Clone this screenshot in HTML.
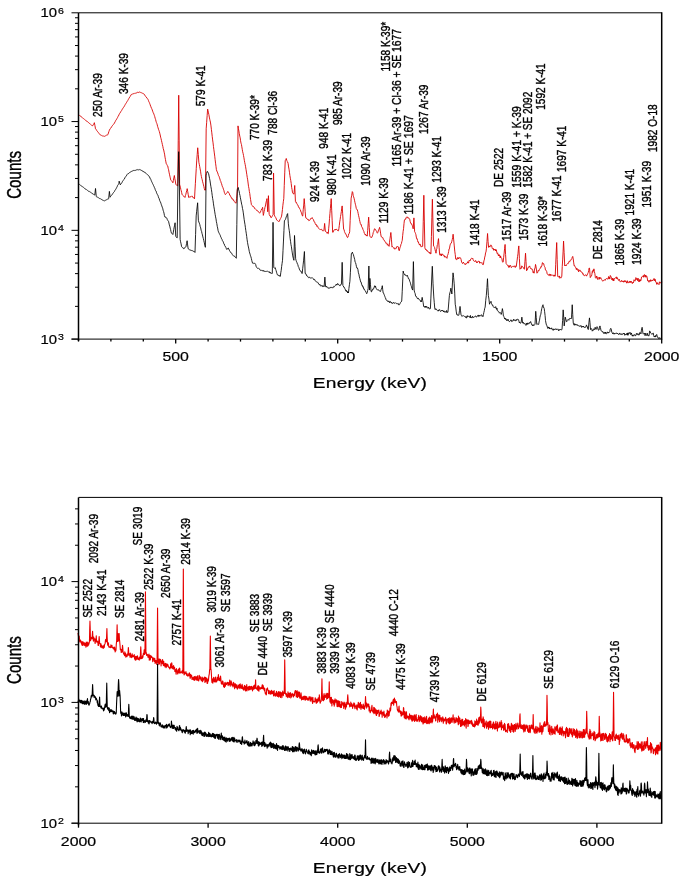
<!DOCTYPE html>
<html><head><meta charset="utf-8"><title>Spectra</title>
<style>html,body{margin:0;padding:0;background:#fff;}svg{display:block;filter:blur(0.3px);}text{font-family:"Liberation Sans", sans-serif;}</style>
</head><body>
<svg width="685" height="879" viewBox="0 0 685 879" font-family='"Liberation Sans", sans-serif' fill="#000">
<rect width="685" height="879" fill="#fff"/>
<g fill="none" stroke-linejoin="round">
<path d="M78.00 114.20 L78.41 114.44 L78.81 114.86 L79.22 115.13 L79.62 115.53 L80.03 115.86 L80.43 116.01 L80.84 116.32 L81.24 116.90 L81.65 117.04 L82.06 117.36 L82.46 117.93 L82.87 118.08 L83.27 118.52 L83.68 118.73 L84.08 119.11 L84.49 119.27 L84.89 119.76 L85.30 120.04 L85.70 120.49 L86.11 120.69 L86.52 121.09 L86.92 121.39 L87.33 121.51 L87.73 122.07 L88.14 122.34 L88.54 122.56 L88.95 122.79 L89.35 123.41 L89.76 123.60 L90.17 124.01 L90.57 124.39 L90.98 124.66 L91.38 125.06 L91.79 125.19 L92.19 125.66 L92.60 125.88 L93.04 125.05 L93.47 124.43 L93.91 123.61 L94.35 122.66 L94.93 125.58 L95.52 128.80 L95.96 129.24 L96.39 129.85 L96.83 130.73 L97.27 131.11 L97.71 131.77 L98.15 132.22 L98.58 132.89 L99.02 133.42 L99.46 133.99 L99.90 134.64 L100.31 134.85 L100.72 135.02 L101.12 135.33 L101.53 135.41 L101.94 135.69 L102.35 135.84 L102.76 136.07 L103.17 136.11 L103.58 136.07 L103.99 136.39 L104.42 136.35 L104.86 136.20 L105.30 135.98 L105.74 135.64 L106.18 135.51 L106.61 135.09 L107.05 135.17 L107.49 134.86 L107.93 134.64 L108.41 133.08 L108.90 131.52 L109.39 130.26 L110.12 128.80 L110.55 128.38 L110.99 127.86 L111.43 126.85 L111.87 126.60 L112.31 125.83 L112.74 125.13 L113.18 124.61 L113.62 124.25 L114.06 123.72 L114.50 122.96 L114.93 121.93 L115.37 121.41 L115.81 120.33 L116.25 119.85 L116.69 118.86 L117.12 118.33 L117.56 117.57 L118.00 116.54 L118.44 115.98 L118.88 114.93 L119.29 114.15 L119.71 113.36 L120.13 112.94 L120.54 111.98 L120.96 111.38 L121.38 110.81 L121.80 110.24 L122.21 109.33 L122.63 108.59 L123.05 108.34 L123.46 107.37 L123.88 107.04 L124.30 106.33 L124.72 105.44 L125.13 104.69 L125.54 104.05 L125.95 103.40 L126.36 102.78 L126.77 102.07 L127.18 101.36 L127.59 100.71 L128.00 100.21 L128.41 99.28 L128.82 98.56 L129.23 98.03 L129.64 97.08 L130.05 96.43 L130.46 96.13 L130.87 95.19 L131.28 94.49 L131.69 94.39 L132.09 93.96 L132.49 94.07 L132.89 94.04 L133.29 93.59 L133.69 93.81 L134.09 93.70 L134.50 93.24 L134.90 93.45 L135.30 93.23 L135.70 93.23 L136.10 92.91 L136.50 93.00 L136.91 92.89 L137.31 92.34 L137.71 92.24 L138.11 92.48 L138.51 92.53 L138.91 91.98 L139.31 92.01 L139.75 92.16 L140.19 92.41 L140.63 92.42 L141.07 92.62 L141.50 92.77 L141.94 92.98 L142.38 93.29 L142.82 93.28 L143.26 93.51 L143.69 93.76 L144.13 94.51 L144.57 94.63 L145.01 95.55 L145.45 96.24 L145.88 96.56 L146.32 97.09 L146.76 98.04 L147.20 98.26 L147.64 98.81 L148.07 99.60 L148.49 100.60 L148.91 101.81 L149.32 102.47 L149.74 103.65 L150.16 104.70 L150.58 106.08 L150.99 106.86 L151.41 108.18 L151.83 108.76 L152.24 109.92 L152.66 111.17 L153.08 112.37 L153.50 113.12 L153.91 114.20 L154.33 115.37 L154.75 116.65 L155.16 118.28 L155.58 119.41 L156.00 121.19 L156.42 122.56 L156.83 123.47 L157.25 124.89 L157.67 126.61 L158.08 127.85 L158.50 129.32 L158.92 130.36 L159.33 131.56 L159.75 133.18 L160.19 134.93 L160.63 137.18 L161.07 138.71 L161.50 140.66 L161.94 142.60 L162.38 144.50 L162.82 146.39 L163.26 148.66 L163.69 150.01 L164.13 152.15 L164.57 154.13 L165.01 157.15 L165.45 159.44 L165.88 161.86 L166.32 163.83 L166.81 164.51 L167.29 165.63 L167.78 166.02 L168.20 168.32 L168.62 169.78 L169.03 172.15 L169.45 174.20 L169.87 176.05 L170.28 177.92 L170.70 179.89 L171.14 180.31 L171.58 180.94 L172.01 181.43 L172.45 181.89 L172.89 182.81 L173.38 180.45 L173.86 177.78 L174.35 175.51 L174.84 178.67 L175.32 180.99 L175.81 184.27 L176.28 184.95 L176.76 185.15 L177.23 185.70 L177.71 185.73 L178.22 140.79 L178.73 95.22 L179.17 140.07 L179.61 184.27 L180.02 186.04 L180.43 187.28 L180.85 189.58 L181.26 190.82 L181.67 192.62 L182.09 194.49 L182.50 195.04 L182.92 195.34 L183.34 195.67 L183.76 196.52 L184.17 196.67 L184.59 196.86 L185.01 197.41 L185.45 195.45 L185.88 194.21 L186.32 192.13 L186.76 190.64 L187.20 188.65 L187.68 191.44 L188.17 194.23 L188.66 197.41 L189.07 197.23 L189.49 197.26 L189.91 196.50 L190.33 196.83 L190.74 196.73 L191.16 196.42 L191.58 195.95 L191.99 196.65 L192.41 196.36 L192.83 197.31 L193.25 197.93 L193.66 197.64 L194.08 198.25 L194.50 198.87 L194.93 191.07 L195.37 183.71 L195.81 176.03 L196.25 168.48 L196.69 160.91 L197.20 154.59 L197.71 147.77 L198.29 154.63 L198.88 162.37 L199.29 164.26 L199.71 166.62 L200.13 168.91 L200.54 171.16 L200.96 174.28 L201.38 176.46 L201.80 178.43 L202.21 179.72 L202.63 181.77 L203.05 183.27 L203.46 184.93 L203.88 186.63 L204.30 188.58 L204.72 190.11 L205.45 190.11 L206.18 128.80 L206.66 122.31 L207.15 115.53 L207.64 109.09 L208.05 110.78 L208.47 112.89 L208.89 114.67 L209.30 117.07 L209.72 119.20 L210.14 120.86 L210.55 122.96 L210.97 125.89 L211.39 129.32 L211.81 132.84 L212.22 136.40 L212.64 139.91 L213.06 142.86 L213.47 146.61 L213.89 149.77 L214.31 152.92 L214.73 156.20 L215.14 159.66 L215.56 163.20 L215.98 166.26 L216.39 169.67 L216.83 171.03 L217.27 171.97 L217.71 172.92 L218.15 174.38 L218.58 175.71 L219.02 176.25 L219.46 177.77 L219.90 178.94 L220.34 180.57 L220.77 181.35 L221.21 183.11 L221.65 183.85 L222.09 185.70 L222.53 186.90 L222.96 187.68 L223.40 189.20 L223.84 190.16 L224.28 192.18 L224.72 193.34 L225.15 194.49 L225.57 194.47 L225.99 193.96 L226.40 193.41 L226.82 193.06 L227.24 192.47 L227.66 191.57 L228.07 191.57 L228.49 192.50 L228.91 192.72 L229.32 193.70 L229.74 195.20 L230.16 195.26 L230.58 196.14 L230.99 197.41 L231.42 197.47 L231.84 198.79 L232.27 198.53 L232.70 198.85 L233.12 200.21 L233.55 199.92 L233.97 201.19 L234.40 201.49 L234.82 202.15 L235.25 202.76 L235.68 202.85 L236.10 203.25 L236.59 198.22 L237.08 192.04 L237.56 187.19 L238.00 125.88 L238.44 128.72 L238.88 131.00 L239.31 133.78 L239.75 136.09 L240.17 137.85 L240.59 140.75 L241.00 143.15 L241.42 144.37 L241.84 146.85 L242.25 149.31 L242.67 151.79 L243.09 153.32 L243.51 155.44 L243.92 157.71 L244.34 160.31 L244.76 162.66 L245.17 164.44 L245.59 166.75 L246.01 169.31 L246.43 172.06 L246.84 174.71 L247.26 177.50 L247.68 179.83 L248.09 183.02 L248.51 186.27 L248.93 188.34 L249.35 191.44 L249.76 193.47 L250.18 196.80 L250.60 199.58 L251.01 202.20 L251.43 204.71 L251.86 205.19 L252.29 205.61 L252.72 206.25 L253.15 207.01 L253.58 206.59 L254.01 206.98 L254.44 208.21 L254.87 208.87 L255.30 208.83 L255.74 209.29 L256.18 209.64 L256.61 210.41 L257.05 210.21 L257.49 210.74 L257.93 211.10 L258.36 212.00 L258.80 212.11 L259.24 212.45 L259.68 213.21 L260.10 212.61 L260.51 212.09 L260.93 210.46 L261.35 210.12 L261.76 208.94 L262.18 208.64 L262.60 207.37 L263.33 215.40 L263.73 213.64 L264.14 211.39 L264.55 209.46 L264.95 207.35 L265.36 206.05 L265.76 204.06 L266.17 201.94 L266.57 200.31 L266.98 198.61 L267.71 211.75 L268.44 195.69 L269.17 214.67 L269.61 215.03 L270.04 216.18 L270.48 215.98 L270.92 217.63 L271.36 217.59 L271.80 216.84 L272.23 216.26 L272.67 215.36 L273.11 214.67 L273.55 173.07 L274.28 214.67 L274.69 215.93 L275.11 216.75 L275.53 217.25 L275.95 217.98 L276.36 219.13 L276.78 220.14 L277.20 220.51 L277.64 220.53 L278.07 221.11 L278.51 221.55 L278.95 221.05 L279.39 221.24 L279.82 219.87 L280.26 218.85 L280.70 218.46 L281.14 217.38 L281.58 216.13 L282.01 213.23 L282.45 209.59 L282.89 205.28 L283.33 201.71 L283.77 198.61 L284.25 185.64 L284.74 172.89 L285.23 160.66 L285.74 159.84 L286.25 158.47 L286.72 160.22 L287.20 161.56 L287.67 161.97 L288.15 163.58 L288.58 166.99 L289.02 169.16 L289.46 172.23 L289.90 175.57 L290.34 178.18 L290.77 180.53 L291.21 183.46 L291.65 187.39 L292.09 189.57 L292.53 192.77 L293.01 193.06 L293.50 193.86 L293.99 194.23 L294.72 185.47 L295.45 201.53 L295.85 202.42 L296.26 202.15 L296.66 203.25 L297.07 204.04 L297.47 204.76 L297.88 205.02 L298.28 206.19 L298.69 207.36 L299.09 207.37 L299.50 208.19 L299.91 209.38 L300.31 209.76 L300.72 210.95 L301.12 212.47 L301.53 212.66 L301.93 214.73 L302.34 215.74 L302.74 216.13 L303.23 209.72 L303.72 205.08 L304.20 198.61 L304.69 204.76 L305.18 211.65 L305.66 217.59 L306.07 218.28 L306.48 217.95 L306.88 218.82 L307.29 219.11 L307.69 219.65 L308.10 219.20 L308.50 220.23 L308.91 220.85 L309.31 220.51 L309.73 220.34 L310.15 219.73 L310.57 218.70 L310.98 218.83 L311.40 218.21 L311.82 218.33 L312.23 217.59 L312.65 218.69 L313.07 219.36 L313.48 219.63 L313.90 221.14 L314.32 221.96 L314.74 222.12 L315.15 223.43 L315.59 224.59 L316.03 224.83 L316.47 224.62 L316.91 226.41 L317.34 225.82 L317.78 226.68 L318.22 227.85 L318.66 228.25 L319.09 228.77 L319.53 229.27 L319.97 229.64 L320.41 229.50 L320.85 229.43 L321.28 229.37 L321.72 229.35 L322.16 230.47 L322.60 230.68 L323.04 230.50 L323.47 230.95 L323.91 230.73 L324.64 223.43 L325.37 231.46 L325.79 231.56 L326.21 231.73 L326.62 232.22 L327.04 233.28 L327.46 232.32 L327.87 233.34 L328.29 233.65 L328.71 228.25 L329.13 224.06 L329.54 218.41 L329.96 213.37 L330.38 208.47 L330.79 203.68 L331.21 198.61 L331.70 210.23 L332.18 220.77 L332.67 232.19 L333.09 232.32 L333.51 230.75 L333.92 230.58 L334.34 229.89 L334.76 229.49 L335.17 230.13 L335.59 229.27 L336.01 229.84 L336.43 229.19 L336.84 229.40 L337.26 229.97 L337.68 230.70 L338.09 231.02 L338.51 230.73 L338.92 228.37 L339.32 225.36 L339.73 221.89 L340.13 219.54 L340.54 216.45 L340.94 214.23 L341.35 211.54 L341.76 208.19 L342.16 205.91 L342.65 213.29 L343.13 221.94 L343.62 229.27 L344.05 229.43 L344.48 231.61 L344.91 232.68 L345.34 233.70 L345.77 233.70 L346.20 234.90 L346.63 235.88 L347.06 236.89 L347.49 237.59 L347.93 237.21 L348.36 235.56 L348.80 233.76 L349.24 233.51 L349.68 231.75 L350.17 220.53 L350.65 209.54 L351.14 198.18 L351.72 195.27 L352.31 191.61 L352.74 192.42 L353.18 195.34 L353.62 196.80 L354.06 198.18 L354.50 200.21 L354.93 202.30 L355.37 204.24 L355.81 205.83 L356.25 208.39 L356.73 209.42 L357.22 209.56 L357.71 211.31 L358.15 213.36 L358.58 215.65 L359.02 217.35 L359.46 219.60 L359.90 221.53 L360.34 223.48 L360.77 224.54 L361.21 224.41 L361.65 226.70 L362.09 227.58 L362.53 227.77 L362.96 229.47 L363.40 230.42 L363.84 231.32 L364.28 233.21 L364.69 233.70 L365.11 234.79 L365.53 234.16 L365.95 235.52 L366.36 235.63 L366.78 235.08 L367.20 236.13 L367.68 230.43 L368.17 223.66 L368.66 217.15 L369.24 227.39 L369.82 236.13 L370.26 236.88 L370.70 237.28 L371.14 236.95 L371.58 237.59 L371.99 236.88 L372.41 235.85 L372.83 234.48 L373.25 232.47 L373.66 231.79 L374.08 230.06 L374.50 228.83 L374.91 228.76 L375.33 229.27 L375.75 229.96 L376.16 230.80 L376.58 231.35 L377.00 232.58 L377.42 233.21 L377.85 232.40 L378.29 230.94 L378.73 229.57 L379.17 228.81 L379.61 227.37 L380.09 229.94 L380.58 233.15 L381.07 236.13 L381.55 237.08 L382.04 236.93 L382.53 237.59 L382.93 237.66 L383.34 239.62 L383.74 239.94 L384.15 239.94 L384.55 240.60 L384.96 241.54 L385.36 242.31 L385.77 242.28 L386.18 243.43 L386.59 242.94 L387.01 243.73 L387.43 245.20 L387.84 244.44 L388.26 245.44 L388.68 245.37 L389.09 246.35 L389.53 242.35 L389.97 238.81 L390.41 235.77 L390.85 232.48 L391.43 239.16 L392.01 247.08 L392.43 246.51 L392.85 246.98 L393.27 247.40 L393.68 248.31 L394.10 247.82 L394.52 248.06 L394.93 249.27 L395.35 248.76 L395.77 248.26 L396.19 248.40 L396.60 246.76 L397.02 247.00 L397.44 246.57 L397.85 246.35 L398.34 246.91 L398.83 250.15 L399.31 250.73 L399.73 248.74 L400.15 247.04 L400.57 246.30 L400.98 244.25 L401.40 243.66 L401.82 241.68 L402.23 240.51 L402.67 235.70 L403.11 231.48 L403.55 228.69 L403.99 223.73 L404.42 220.07 L404.86 220.04 L405.30 218.84 L405.74 219.16 L406.18 217.35 L406.61 217.15 L407.05 216.82 L407.49 216.99 L407.93 218.20 L408.36 217.99 L408.80 217.88 L409.24 218.60 L409.68 219.13 L410.12 221.30 L410.55 222.89 L410.99 222.99 L411.43 224.34 L411.87 224.36 L412.31 225.57 L412.74 226.86 L413.18 228.83 L413.91 217.88 L414.64 231.75 L415.06 232.35 L415.48 233.34 L415.89 234.62 L416.31 237.06 L416.73 238.80 L417.14 238.66 L417.56 240.51 L417.97 242.18 L418.37 241.92 L418.78 243.31 L419.18 244.26 L419.59 245.04 L420.00 243.96 L420.40 245.83 L420.81 245.52 L421.21 247.08 L421.70 246.54 L422.18 246.26 L422.67 246.35 L423.26 221.67 L423.84 195.26 L424.35 222.02 L424.86 247.81 L425.30 249.07 L425.74 249.84 L426.18 249.39 L426.61 250.71 L427.05 250.73 L427.46 250.58 L427.86 251.83 L428.27 252.13 L428.67 252.00 L429.08 252.26 L429.48 253.21 L429.89 252.17 L430.30 254.03 L430.70 253.65 L430.92 253.94 L431.41 236.47 L431.89 217.34 L432.38 199.20 L432.96 223.04 L433.55 245.91 L434.06 246.36 L434.57 247.37 L435.06 249.51 L435.54 251.68 L436.03 253.21 L436.44 249.80 L436.86 248.65 L437.27 244.89 L437.68 244.46 L438.10 241.18 L438.51 238.61 L439.09 247.23 L439.68 254.67 L440.10 255.28 L440.51 254.02 L440.93 253.79 L441.35 256.00 L441.76 254.04 L442.18 253.80 L442.60 254.67 L443.02 254.40 L443.43 255.54 L443.85 256.16 L444.27 255.60 L444.68 257.20 L445.10 256.75 L445.52 256.86 L446.00 256.72 L446.49 257.76 L446.98 258.32 L447.40 255.64 L447.81 254.93 L448.23 253.51 L448.65 251.55 L449.06 248.84 L449.48 248.75 L449.90 245.91 L450.38 244.12 L450.87 243.24 L451.36 242.99 L451.80 241.29 L452.23 239.66 L452.67 237.36 L453.11 234.23 L453.69 239.90 L454.28 245.91 L454.76 251.17 L455.25 254.64 L455.74 259.05 L456.18 258.70 L456.61 259.68 L457.05 259.56 L457.49 257.58 L457.93 257.87 L458.36 258.90 L458.80 257.54 L459.24 257.54 L459.68 258.28 L460.12 257.59 L460.60 258.18 L461.09 259.48 L461.58 261.97 L462.01 262.77 L462.45 263.46 L462.89 263.46 L463.33 262.10 L463.77 262.98 L464.20 263.38 L464.64 264.29 L465.08 263.64 L465.52 264.63 L465.96 264.16 L466.39 263.22 L466.83 263.52 L467.27 263.15 L467.71 261.69 L468.15 262.94 L468.58 263.05 L469.02 260.65 L469.46 260.15 L469.90 261.02 L470.34 260.51 L470.82 258.87 L471.31 258.48 L471.80 258.32 L472.23 258.50 L472.67 258.02 L473.11 259.70 L473.55 260.72 L473.99 260.94 L474.42 261.17 L474.86 261.63 L475.30 260.74 L475.74 260.51 L476.18 261.97 L476.61 262.73 L477.05 261.60 L477.49 262.51 L477.93 261.62 L478.36 261.24 L478.80 261.58 L479.24 261.10 L479.68 263.25 L480.12 262.20 L480.55 262.70 L480.97 262.81 L481.39 263.01 L481.81 262.53 L482.22 263.59 L482.64 264.56 L483.06 264.95 L483.47 264.16 L483.89 260.88 L484.31 259.90 L484.73 257.08 L485.14 255.93 L485.56 252.91 L485.98 251.94 L486.39 248.83 L486.98 241.50 L487.56 233.50 L488.07 241.42 L488.58 247.37 L489.02 246.66 L489.46 246.07 L489.90 247.12 L490.34 245.19 L490.77 245.18 L491.19 245.12 L491.61 245.78 L492.03 247.46 L492.44 248.68 L492.86 249.14 L493.28 248.39 L493.69 250.29 L494.13 249.40 L494.57 249.96 L495.01 249.01 L495.45 251.01 L495.88 249.56 L496.32 249.82 L496.76 252.02 L497.20 253.46 L497.64 252.88 L498.07 254.67 L498.49 255.86 L498.91 254.43 L499.32 256.01 L499.74 255.40 L500.16 257.93 L500.58 255.96 L500.99 257.59 L501.43 258.11 L501.87 258.32 L502.31 261.28 L502.74 262.25 L503.18 261.97 L503.66 257.24 L504.13 253.18 L504.61 248.33 L505.08 244.45 L505.59 254.54 L506.10 263.43 L506.54 264.18 L506.98 264.69 L507.42 265.27 L507.85 265.04 L508.29 266.35 L508.73 267.41 L509.17 265.57 L509.61 267.18 L510.04 265.78 L510.48 265.25 L510.92 266.13 L511.36 267.58 L511.80 267.07 L512.23 266.81 L512.67 266.35 L513.08 266.48 L513.48 266.68 L513.89 265.91 L514.29 266.04 L514.70 266.00 L515.10 267.54 L515.51 267.25 L515.92 265.82 L516.32 266.35 L516.73 262.95 L517.15 260.11 L517.56 256.49 L517.98 253.89 L518.39 249.26 L518.80 245.91 L519.39 258.53 L519.97 269.27 L520.41 268.76 L520.85 267.85 L521.28 268.39 L521.72 265.83 L522.16 266.35 L522.60 266.64 L523.04 267.18 L523.47 268.22 L523.91 268.51 L524.35 269.27 L524.93 261.77 L525.52 253.21 L526.03 261.47 L526.54 270.73 L526.99 269.79 L527.44 269.74 L527.89 267.71 L528.33 267.65 L528.78 266.67 L529.23 266.73 L529.68 265.91 L530.12 267.72 L530.55 267.98 L530.99 268.96 L531.43 268.68 L531.87 269.56 L532.31 269.32 L532.74 270.71 L533.18 272.75 L533.62 271.69 L534.06 273.21 L534.55 268.65 L535.03 268.53 L535.52 264.45 L536.00 266.56 L536.49 270.00 L536.98 273.21 L537.40 272.41 L537.81 272.37 L538.23 270.29 L538.65 270.51 L539.06 270.74 L539.48 269.39 L539.90 268.83 L540.31 267.80 L540.73 268.01 L541.15 266.12 L541.57 266.50 L541.98 265.16 L542.40 262.59 L542.82 262.99 L543.26 263.93 L543.69 263.66 L544.13 265.54 L544.57 266.60 L545.01 267.37 L545.45 269.95 L545.88 270.07 L546.32 270.78 L546.76 271.66 L547.20 273.94 L547.64 274.40 L548.07 274.94 L548.51 275.32 L548.95 274.29 L549.39 274.17 L549.82 275.80 L550.26 275.82 L550.70 274.10 L551.14 274.98 L551.58 275.40 L551.98 275.48 L552.39 275.26 L552.79 275.29 L553.20 275.43 L553.60 275.14 L554.01 276.41 L554.42 274.93 L554.82 275.90 L555.23 276.13 L555.71 264.26 L556.20 252.98 L556.69 242.55 L557.20 259.64 L557.71 276.13 L558.15 277.05 L558.58 276.72 L559.02 277.21 L559.46 275.91 L559.90 278.32 L560.34 277.59 L560.82 277.32 L561.31 277.70 L561.80 276.13 L562.23 266.62 L562.67 259.93 L563.11 251.20 L563.55 241.09 L564.13 252.63 L564.72 265.91 L565.15 265.18 L565.59 265.43 L566.03 265.99 L566.47 264.85 L566.91 264.45 L567.34 263.72 L567.78 263.51 L568.22 263.67 L568.66 262.26 L569.09 261.53 L569.58 262.12 L570.07 260.67 L570.55 260.07 L570.99 260.27 L571.43 259.28 L571.87 258.53 L572.31 257.09 L572.74 256.42 L573.23 258.90 L573.72 262.92 L574.20 265.91 L574.64 265.56 L575.08 266.87 L575.52 267.19 L575.96 267.99 L576.39 269.56 L576.83 268.11 L577.27 269.95 L577.71 270.23 L578.15 269.33 L578.58 271.84 L579.02 270.92 L579.46 269.88 L579.90 270.79 L580.34 270.46 L580.77 271.75 L581.19 272.10 L581.61 271.92 L582.03 272.12 L582.44 273.45 L582.86 273.06 L583.28 275.07 L583.69 274.67 L584.11 275.65 L584.53 275.79 L584.94 275.18 L585.36 275.02 L585.78 274.77 L586.20 275.27 L586.61 276.13 L587.03 274.62 L587.45 274.53 L587.86 273.22 L588.28 272.41 L588.70 270.52 L589.12 267.98 L589.53 268.10 L590.26 277.59 L590.67 277.02 L591.07 276.38 L591.48 275.96 L591.88 274.35 L592.29 271.42 L592.70 272.45 L593.10 269.93 L593.51 271.18 L593.91 268.83 L594.40 271.71 L594.89 273.67 L595.37 277.59 L595.79 278.18 L596.21 278.28 L596.62 275.99 L597.04 276.81 L597.46 277.80 L597.87 279.64 L598.29 278.32 L598.71 277.74 L599.13 277.09 L599.54 279.21 L599.96 277.38 L600.38 278.34 L600.79 277.79 L601.21 279.05 L601.70 279.46 L602.18 280.35 L602.67 281.24 L603.11 280.52 L603.55 280.66 L603.99 280.13 L604.42 279.64 L604.86 280.36 L605.30 280.21 L605.74 279.07 L606.18 278.60 L606.61 278.58 L607.05 279.05 L607.46 279.02 L607.86 279.09 L608.27 277.86 L608.67 276.47 L609.08 279.12 L609.48 277.35 L609.89 278.77 L610.30 275.48 L610.70 276.13 L611.14 277.01 L611.58 277.82 L612.01 280.01 L612.45 278.19 L612.89 280.51 L613.33 278.75 L613.77 281.02 L614.20 278.29 L614.64 278.76 L615.08 278.46 L615.52 277.67 L615.96 277.24 L616.39 276.82 L616.83 278.87 L617.27 277.59 L617.85 279.03 L618.44 280.29 L618.85 280.42 L619.26 279.25 L619.66 280.64 L620.07 281.41 L620.48 282.08 L620.89 281.54 L621.30 280.68 L621.71 280.32 L622.12 281.93 L622.53 281.31 L622.93 281.30 L623.34 281.02 L623.75 282.25 L624.16 281.52 L624.57 280.59 L624.98 281.98 L625.39 281.01 L625.80 280.64 L626.20 281.93 L626.61 283.16 L627.02 281.58 L627.43 280.74 L627.84 282.96 L628.25 282.95 L628.66 282.34 L629.07 281.48 L629.47 281.41 L629.88 282.77 L630.29 281.13 L630.70 282.27 L631.11 282.35 L631.52 281.42 L631.93 282.78 L632.34 283.60 L632.74 282.34 L633.19 283.02 L633.64 281.97 L634.09 279.69 L634.53 280.68 L634.98 281.15 L635.43 280.36 L635.87 277.58 L636.32 278.25 L636.77 279.65 L637.22 278.45 L637.66 280.72 L638.11 278.29 L638.56 279.60 L639.00 282.02 L639.45 279.65 L639.90 281.31 L640.31 279.60 L640.72 280.83 L641.12 279.80 L641.53 277.02 L641.94 276.72 L642.39 276.66 L642.84 276.02 L643.28 275.51 L643.73 277.30 L644.18 274.71 L644.62 274.64 L645.07 276.84 L645.52 275.18 L645.94 277.33 L646.37 275.69 L646.80 276.35 L647.22 277.85 L647.65 280.84 L648.07 280.29 L648.51 281.76 L648.95 282.27 L649.39 280.41 L649.82 281.36 L650.26 281.34 L650.70 279.67 L651.14 281.31 L651.55 280.62 L651.96 280.12 L652.36 280.84 L652.77 279.97 L653.18 280.25 L653.59 279.89 L654.00 278.47 L654.41 280.78 L654.82 279.10 L655.23 279.27 L655.74 282.07 L656.25 282.24 L656.76 284.38 L657.21 282.57 L657.65 283.80 L658.10 283.46 L658.55 284.04 L658.99 284.68 L659.44 281.81 L659.89 282.77 L660.34 282.34 L660.85 283.25 L661.36 283.20 L661.87 281.82" stroke="#d80000" stroke-width="0.9"/>
<path d="M78.00 183.36 L78.42 183.59 L78.83 183.86 L79.25 184.26 L79.67 184.50 L80.09 184.79 L80.50 185.20 L80.92 185.68 L81.34 185.96 L81.75 186.26 L82.17 186.40 L82.59 186.81 L83.01 187.04 L83.42 187.32 L83.84 187.61 L84.26 187.96 L84.67 188.50 L85.09 188.79 L85.51 189.09 L85.92 189.40 L86.34 189.51 L86.76 189.93 L87.16 190.12 L87.56 190.48 L87.96 190.77 L88.36 191.07 L88.77 191.34 L89.17 191.31 L89.57 191.75 L89.97 192.03 L90.37 192.23 L90.77 192.37 L91.18 192.73 L91.58 192.84 L91.98 193.41 L92.38 193.64 L92.78 193.78 L93.18 193.94 L93.58 194.42 L93.99 194.55 L94.39 194.92 L94.79 195.04 L95.52 188.47 L96.25 196.50 L96.67 196.87 L97.10 196.99 L97.53 197.19 L97.95 197.51 L98.38 197.69 L98.80 197.82 L99.23 198.12 L99.65 198.57 L100.08 198.50 L100.51 198.75 L100.93 199.22 L101.36 199.42 L101.77 199.53 L102.19 199.85 L102.61 200.03 L103.03 200.18 L103.44 200.67 L103.86 200.54 L104.28 200.88 L104.72 200.62 L105.15 200.31 L105.59 200.28 L106.03 199.90 L106.47 199.72 L106.91 199.67 L107.34 199.26 L107.78 199.15 L108.22 199.08 L108.66 198.69 L109.39 191.39 L110.12 197.23 L110.55 196.46 L110.99 195.86 L111.43 195.35 L111.87 195.01 L112.31 194.36 L112.74 193.60 L113.18 193.06 L113.62 192.40 L114.06 191.95 L114.50 191.39 L114.93 190.37 L115.37 189.87 L115.81 189.17 L116.25 188.39 L116.69 187.48 L117.12 186.79 L117.56 185.53 L118.00 184.86 L118.44 184.39 L118.88 183.36 L119.17 181.17 L119.75 183.13 L120.34 184.82 L120.74 184.16 L121.15 183.82 L121.55 183.05 L121.96 182.54 L122.36 181.67 L122.77 181.01 L123.17 180.53 L123.58 179.77 L123.99 179.28 L124.39 178.97 L124.80 178.04 L125.20 177.26 L125.61 176.67 L126.01 176.13 L126.42 175.84 L126.82 175.01 L127.23 174.37 L127.64 173.87 L128.05 173.41 L128.47 173.65 L128.89 173.11 L129.30 172.75 L129.72 172.43 L130.14 172.19 L130.55 172.01 L130.97 172.05 L131.39 171.52 L131.81 171.22 L132.22 171.23 L132.64 170.85 L133.06 171.03 L133.47 170.51 L133.89 170.23 L134.31 170.38 L134.73 170.45 L135.14 170.17 L135.56 170.42 L135.98 170.06 L136.39 169.85 L136.81 169.88 L137.23 169.59 L137.65 169.74 L138.06 169.56 L138.48 169.86 L138.90 169.75 L139.31 169.49 L139.73 169.70 L140.15 169.63 L140.57 169.97 L140.98 170.17 L141.40 170.36 L141.82 170.58 L142.23 171.17 L142.65 170.94 L143.07 171.10 L143.48 171.83 L143.90 171.82 L144.32 172.29 L144.74 172.14 L145.15 172.41 L145.57 173.07 L145.99 173.34 L146.40 173.84 L146.82 174.23 L147.24 174.49 L147.66 174.66 L148.07 175.33 L148.56 175.63 L149.05 176.54 L149.53 176.79 L149.97 177.99 L150.41 178.96 L150.85 179.53 L151.28 180.68 L151.72 181.72 L152.16 182.57 L152.60 183.63 L153.04 184.40 L153.47 185.43 L153.91 186.28 L154.35 187.42 L154.79 188.17 L155.23 189.62 L155.66 190.67 L156.10 191.11 L156.54 192.72 L156.98 193.74 L157.42 194.56 L157.85 195.17 L158.29 196.50 L158.73 197.93 L159.17 198.58 L159.61 200.32 L160.04 201.28 L160.48 202.04 L160.92 203.28 L161.36 204.76 L161.80 205.89 L162.23 207.18 L162.67 208.18 L163.11 210.22 L163.55 211.48 L163.99 213.08 L164.42 215.48 L164.86 216.93 L165.35 216.83 L165.83 217.69 L166.32 217.66 L166.76 218.12 L167.20 219.35 L167.64 220.06 L168.07 220.85 L168.51 221.31 L168.93 223.02 L169.35 224.92 L169.76 226.10 L170.18 228.11 L170.60 229.53 L171.01 231.61 L171.43 232.99 L171.92 233.68 L172.40 233.94 L172.89 234.45 L173.33 232.14 L173.77 229.43 L174.20 227.10 L174.64 225.18 L175.08 222.77 L175.74 236.35 L176.22 236.83 L176.71 237.60 L177.20 237.81 L177.93 183.80 L178.66 151.68 L179.39 183.80 L180.12 239.27 L180.60 241.79 L181.09 243.86 L181.58 246.57 L182.01 246.90 L182.45 247.65 L182.89 247.90 L183.33 247.94 L183.77 248.76 L184.20 248.59 L184.64 248.14 L185.08 247.12 L185.52 247.04 L185.96 246.57 L186.54 243.55 L187.12 240.73 L187.64 244.98 L188.15 248.76 L188.58 248.90 L189.02 249.13 L189.46 249.62 L189.90 250.31 L190.34 250.22 L190.75 249.99 L191.17 250.11 L191.59 250.63 L192.00 250.96 L192.42 250.75 L192.84 250.79 L193.26 250.95 L193.69 251.61 L194.13 251.91 L194.57 251.68 L195.01 252.41 L195.59 234.48 L196.18 215.91 L196.66 211.27 L197.15 206.98 L197.64 202.77 L198.36 220.29 L198.85 222.04 L199.34 223.14 L199.82 224.67 L200.26 226.68 L200.70 227.89 L201.14 230.25 L201.58 231.40 L202.01 233.43 L202.45 234.88 L202.89 236.93 L203.33 238.54 L203.77 240.47 L204.20 242.19 L204.79 245.10 L205.37 247.30 L206.10 175.04 L206.61 173.40 L207.12 171.39 L207.61 171.67 L208.10 172.68 L208.58 173.58 L209.07 176.05 L209.56 178.43 L210.04 180.88 L210.48 183.99 L210.92 186.70 L211.36 189.25 L211.80 192.32 L212.23 195.47 L212.65 198.51 L213.07 200.76 L213.48 203.86 L213.90 206.77 L214.32 209.15 L214.74 211.91 L215.15 214.45 L215.57 216.85 L215.99 218.87 L216.40 221.72 L216.82 223.60 L217.24 226.31 L217.66 228.03 L218.07 230.51 L218.51 231.88 L218.95 232.83 L219.39 233.68 L219.82 234.54 L220.26 235.28 L220.70 236.90 L221.14 237.53 L221.58 238.84 L222.01 239.35 L222.45 240.73 L222.89 241.20 L223.33 242.14 L223.77 243.66 L224.20 243.92 L224.64 245.50 L225.08 245.86 L225.52 246.94 L225.96 247.59 L226.39 248.73 L226.83 249.49 L227.32 248.60 L227.81 248.42 L228.29 248.03 L228.73 249.34 L229.17 249.46 L229.61 250.81 L230.04 251.36 L230.48 252.41 L230.89 252.61 L231.29 252.74 L231.70 253.14 L232.10 254.49 L232.51 254.77 L232.91 255.15 L233.32 255.56 L233.73 256.12 L234.13 256.06 L234.57 256.15 L235.01 257.02 L235.45 257.37 L235.88 257.89 L236.32 258.25 L236.83 224.40 L237.34 189.64 L237.78 188.81 L238.22 187.45 L238.66 189.94 L239.09 191.06 L239.53 193.63 L239.97 195.47 L240.39 197.74 L240.81 199.90 L241.22 201.86 L241.64 204.17 L242.06 205.69 L242.47 208.44 L242.89 210.07 L243.31 212.89 L243.72 216.02 L244.14 219.26 L244.56 221.97 L244.98 224.47 L245.39 227.30 L245.81 230.51 L246.25 233.24 L246.69 236.49 L247.12 239.81 L247.56 242.62 L248.00 245.11 L248.42 246.97 L248.84 248.94 L249.26 251.37 L249.68 252.99 L250.10 254.22 L250.51 255.82 L250.93 256.84 L251.35 258.48 L251.76 260.34 L252.18 261.97 L252.60 263.21 L253.04 263.34 L253.47 263.06 L253.91 263.71 L254.35 263.35 L254.79 263.21 L255.23 263.70 L255.66 264.48 L256.10 266.37 L256.54 267.27 L256.98 267.59 L257.42 268.36 L257.85 268.29 L258.29 268.25 L258.73 268.29 L259.17 268.78 L259.61 269.03 L260.04 270.12 L260.48 270.38 L260.92 270.54 L261.36 270.51 L261.80 270.18 L262.23 270.36 L262.67 270.50 L263.11 271.32 L263.55 270.49 L263.99 271.29 L264.42 271.23 L264.86 271.15 L265.30 271.70 L265.74 271.24 L266.15 271.07 L266.57 271.48 L266.99 271.15 L267.41 271.18 L267.82 271.21 L268.24 271.65 L268.66 271.97 L269.06 271.68 L269.47 271.77 L269.87 273.04 L270.28 272.37 L270.68 273.25 L271.09 273.19 L271.50 273.38 L271.90 273.45 L272.31 273.43 L273.04 222.34 L273.77 267.59 L274.25 268.14 L274.74 268.05 L275.23 267.59 L275.66 269.32 L276.10 270.58 L276.54 272.21 L276.98 273.70 L277.42 274.89 L277.83 275.16 L278.25 275.31 L278.67 275.09 L279.08 276.15 L279.50 275.91 L279.92 275.61 L280.34 276.35 L280.77 272.73 L281.21 270.39 L281.65 266.41 L282.09 263.37 L282.53 260.29 L283.00 250.67 L283.47 241.04 L283.95 230.51 L284.42 220.88 L284.93 220.00 L285.45 219.42 L285.88 218.15 L286.32 216.48 L286.76 216.39 L287.20 214.13 L287.64 213.58 L288.36 223.80 L288.80 227.89 L289.24 230.36 L289.68 233.87 L290.12 238.26 L290.55 241.31 L290.99 244.65 L291.43 246.81 L291.87 250.14 L292.31 252.96 L292.74 255.91 L293.33 258.39 L293.91 260.29 L294.50 235.47 L295.08 246.74 L295.66 258.83 L296.10 260.43 L296.54 261.82 L296.98 262.61 L297.42 264.06 L297.85 264.67 L298.34 266.71 L298.83 267.43 L299.31 269.05 L299.73 270.14 L300.15 270.75 L300.57 271.04 L300.98 271.03 L301.40 272.34 L301.82 273.36 L302.23 273.43 L302.67 268.79 L303.11 264.87 L303.55 260.83 L303.99 256.05 L304.42 251.53 L305.15 273.43 L305.57 273.33 L305.99 274.65 L306.40 274.66 L306.82 276.00 L307.24 276.26 L307.66 276.30 L308.07 277.08 L308.51 277.69 L308.95 277.40 L309.39 277.08 L309.82 277.83 L310.26 277.98 L310.70 278.06 L311.14 278.12 L311.58 277.88 L312.01 278.01 L312.45 277.81 L312.89 278.39 L313.33 278.72 L313.77 279.80 L314.20 279.36 L314.64 279.42 L315.08 280.74 L315.52 280.87 L315.96 281.38 L316.39 281.89 L316.83 282.19 L317.27 282.20 L317.71 282.50 L318.15 282.68 L318.58 284.05 L319.02 284.59 L319.46 284.66 L319.90 284.20 L320.34 285.79 L320.77 285.94 L321.21 285.84 L321.63 285.96 L322.05 285.33 L322.46 286.64 L322.88 286.43 L323.30 286.54 L323.71 285.77 L324.13 286.57 L324.86 277.08 L325.59 286.57 L326.01 287.12 L326.43 286.31 L326.84 287.16 L327.26 286.89 L327.68 287.41 L328.09 288.39 L328.51 288.03 L328.95 288.32 L329.39 288.35 L329.82 287.51 L330.26 287.57 L330.70 287.82 L331.14 286.91 L331.58 287.39 L332.01 288.15 L332.45 287.75 L332.89 287.30 L333.32 287.53 L333.74 286.39 L334.17 286.67 L334.59 286.51 L335.02 286.08 L335.45 285.38 L335.87 284.68 L336.30 284.14 L336.72 285.14 L337.15 284.91 L337.57 283.62 L338.00 283.65 L338.42 284.55 L338.84 284.53 L339.26 285.38 L339.68 285.69 L340.12 285.85 L340.55 284.69 L340.99 284.78 L341.43 284.23 L342.16 262.34 L342.89 285.69 L343.33 286.05 L343.77 287.17 L344.20 287.16 L344.64 288.25 L345.08 289.02 L345.52 290.07 L345.94 291.13 L346.35 290.34 L346.77 291.72 L347.19 291.10 L347.60 292.91 L348.02 292.06 L348.44 292.99 L348.92 288.47 L349.41 284.76 L349.90 281.31 L350.38 272.74 L350.87 263.09 L351.36 253.58 L351.87 253.46 L352.38 252.12 L352.85 253.58 L353.33 254.43 L353.80 256.24 L354.28 257.96 L354.72 259.64 L355.15 262.24 L355.59 262.68 L356.03 264.56 L356.47 266.72 L356.95 268.23 L357.44 268.05 L357.93 269.64 L358.41 272.82 L358.90 274.18 L359.39 276.93 L359.82 278.50 L360.26 280.11 L360.70 281.97 L361.14 282.09 L361.58 284.23 L361.99 285.63 L362.41 285.38 L362.83 287.09 L363.25 286.80 L363.66 288.84 L364.08 288.72 L364.50 290.07 L364.93 290.32 L365.37 290.77 L365.81 291.98 L366.25 292.71 L366.69 293.72 L367.17 292.81 L367.66 290.49 L368.15 288.61 L368.88 265.99 L369.46 290.07 L369.90 278.39 L370.48 284.74 L371.07 291.53 L371.55 291.86 L372.04 290.01 L372.53 290.07 L372.96 288.72 L373.40 289.08 L373.84 288.20 L374.28 286.88 L374.72 285.69 L375.13 287.12 L375.55 286.20 L375.97 288.25 L376.38 288.54 L376.80 289.10 L377.22 290.03 L377.64 290.07 L378.05 289.61 L378.47 289.98 L378.89 290.09 L379.30 290.87 L379.72 291.19 L380.14 291.39 L380.55 291.53 L380.99 289.84 L381.43 289.03 L381.87 287.73 L382.31 285.69 L382.74 289.79 L383.18 292.99 L383.58 293.11 L383.99 294.22 L384.39 295.25 L384.79 296.19 L385.19 297.68 L385.59 297.94 L385.99 299.59 L386.39 300.29 L386.83 300.24 L387.27 300.49 L387.71 301.31 L388.15 301.94 L388.58 300.85 L389.02 301.34 L389.46 302.66 L389.90 301.54 L390.34 301.44 L390.77 302.48 L391.21 302.01 L391.65 303.20 L392.09 303.11 L392.53 303.54 L392.96 302.84 L393.40 302.11 L393.84 302.65 L394.28 303.45 L394.72 302.95 L395.15 303.21 L395.59 302.72 L396.03 303.28 L396.47 303.59 L396.91 303.54 L397.34 303.85 L397.78 303.44 L398.22 303.40 L398.66 304.89 L399.09 304.94 L399.53 304.67 L399.97 303.80 L400.41 302.52 L400.85 302.11 L401.28 301.86 L401.72 301.02 L402.21 291.76 L402.70 281.04 L403.18 271.09 L403.67 273.17 L404.16 273.58 L404.64 274.74 L405.06 274.37 L405.48 275.37 L405.89 275.55 L406.31 275.76 L406.73 276.20 L407.14 275.13 L407.56 276.20 L408.00 277.11 L408.44 278.80 L408.88 278.61 L409.31 279.45 L409.75 281.31 L410.19 282.19 L410.63 283.84 L411.07 285.57 L411.50 286.81 L411.94 288.61 L412.67 290.07 L413.40 261.61 L414.13 290.07 L414.62 292.27 L415.10 293.35 L415.59 295.91 L416.01 296.04 L416.43 297.07 L416.84 297.25 L417.26 298.44 L417.68 298.81 L418.09 297.96 L418.51 298.83 L418.93 298.94 L419.35 299.74 L419.76 300.17 L420.18 300.25 L420.60 301.60 L421.01 300.76 L421.43 301.75 L422.16 297.37 L422.65 300.24 L423.13 302.49 L423.62 306.13 L424.06 307.01 L424.50 306.61 L424.93 307.50 L425.37 306.03 L425.81 307.26 L426.25 307.19 L426.69 306.29 L427.12 307.91 L427.56 308.16 L428.00 307.59 L428.22 307.88 L428.66 307.22 L429.09 309.03 L429.53 308.87 L429.97 308.67 L430.41 308.61 L430.88 298.11 L431.36 286.99 L431.83 276.00 L432.31 266.28 L433.04 283.80 L433.77 296.93 L434.28 302.73 L434.79 308.61 L435.23 309.62 L435.66 308.63 L436.10 309.44 L436.54 309.35 L436.98 310.07 L437.42 310.52 L437.85 311.12 L438.29 311.06 L438.73 309.95 L439.17 310.27 L439.61 309.53 L440.04 310.64 L440.48 311.36 L440.92 311.41 L441.36 310.80 L441.80 310.03 L442.23 310.82 L442.67 310.19 L443.11 310.94 L443.55 311.99 L443.99 310.81 L444.42 312.00 L444.86 312.30 L445.30 312.10 L445.74 311.53 L446.18 312.52 L446.61 310.48 L447.05 311.55 L447.49 312.50 L447.93 312.26 L448.41 307.00 L448.90 301.09 L449.39 295.47 L449.87 292.87 L450.36 291.32 L450.85 288.18 L451.36 290.74 L451.87 294.01 L452.45 282.98 L453.04 272.85 L453.62 277.54 L454.20 283.80 L454.72 293.14 L455.23 304.23 L455.71 306.94 L456.20 311.14 L456.69 314.45 L457.12 314.20 L457.56 315.28 L458.00 314.97 L458.44 315.29 L458.88 315.18 L459.46 310.77 L460.04 306.42 L460.55 310.89 L461.07 315.18 L461.47 315.49 L461.88 316.46 L462.28 316.14 L462.69 315.73 L463.09 315.59 L463.50 315.74 L463.90 315.71 L464.31 316.05 L464.72 316.64 L465.15 316.98 L465.59 317.40 L466.03 316.28 L466.47 318.04 L466.91 317.68 L467.34 315.60 L467.78 316.76 L468.22 316.11 L468.66 316.42 L469.09 316.64 L469.53 316.59 L469.97 317.62 L470.41 315.45 L470.85 317.98 L471.28 317.51 L471.72 318.09 L472.16 316.83 L472.60 316.16 L473.04 317.85 L473.47 317.37 L473.91 317.20 L474.35 316.94 L474.79 316.61 L475.23 316.17 L475.66 315.84 L476.10 317.01 L476.54 317.17 L476.98 316.57 L477.42 315.83 L477.85 315.91 L478.27 314.95 L478.69 316.53 L479.11 316.31 L479.52 315.36 L479.94 316.21 L480.36 315.55 L480.77 315.18 L481.21 315.01 L481.65 314.76 L482.09 316.34 L482.53 315.78 L482.96 316.64 L483.40 314.70 L483.84 312.53 L484.28 310.77 L484.72 308.23 L485.15 307.15 L485.74 300.25 L486.32 295.47 L486.91 287.66 L487.49 278.69 L487.93 287.61 L488.36 295.47 L488.95 299.06 L489.53 304.23 L490.02 302.74 L490.51 302.43 L490.99 301.31 L491.43 303.39 L491.87 304.00 L492.31 305.33 L492.74 305.06 L493.18 306.42 L493.60 307.20 L494.02 307.73 L494.43 307.43 L494.85 307.53 L495.27 307.79 L495.69 306.60 L496.10 307.88 L496.52 309.34 L496.94 308.12 L497.35 310.37 L497.77 311.10 L498.19 311.18 L498.60 311.46 L499.02 312.26 L499.46 313.20 L499.90 312.52 L500.34 312.59 L500.77 313.08 L501.21 314.45 L501.80 312.20 L502.38 308.61 L502.89 311.16 L503.40 315.91 L503.84 316.30 L504.28 317.55 L504.72 319.05 L505.15 318.07 L505.59 319.56 L506.03 318.79 L506.47 319.48 L506.91 320.86 L507.34 319.48 L507.78 320.27 L508.22 319.45 L508.66 320.90 L509.09 321.52 L509.53 321.62 L509.97 321.02 L510.41 320.78 L510.85 319.77 L511.28 320.04 L511.72 321.57 L512.16 321.48 L512.60 320.74 L513.04 320.84 L513.47 319.30 L513.91 320.51 L514.35 320.29 L514.76 319.71 L515.16 320.85 L515.57 320.70 L515.97 321.04 L516.38 319.63 L516.78 320.16 L517.19 319.00 L517.59 319.03 L518.00 319.56 L518.46 319.72 L518.92 320.90 L519.39 322.99 L519.82 322.29 L520.26 323.26 L520.70 323.18 L521.14 322.26 L521.87 317.15 L522.60 322.99 L523.02 322.66 L523.43 322.24 L523.85 323.85 L524.27 323.81 L524.68 323.66 L525.10 323.51 L525.52 324.45 L525.94 325.45 L526.35 324.87 L526.77 323.03 L527.19 324.58 L527.60 322.88 L528.02 323.51 L528.44 323.72 L528.88 324.05 L529.31 322.44 L529.75 322.86 L530.19 322.70 L530.63 321.53 L531.07 322.92 L531.50 323.88 L531.94 325.17 L532.38 325.01 L532.82 325.91 L533.26 324.62 L533.69 325.44 L534.13 325.30 L534.57 324.76 L535.01 324.45 L535.74 311.31 L536.25 317.60 L536.76 324.45 L537.23 324.02 L537.71 324.21 L538.18 324.38 L538.66 324.45 L539.09 321.92 L539.53 320.21 L539.97 317.19 L540.41 315.19 L540.85 314.23 L541.28 311.29 L541.72 308.71 L542.16 307.07 L542.60 305.47 L543.00 304.72 L543.40 307.50 L543.80 307.35 L544.20 308.39 L544.64 311.72 L545.08 315.60 L545.52 320.55 L545.96 322.99 L546.44 324.99 L546.93 325.78 L547.42 327.37 L547.83 328.47 L548.25 326.92 L548.67 328.03 L549.08 327.12 L549.50 329.03 L549.92 328.08 L550.34 328.83 L550.77 328.59 L551.21 328.98 L551.65 327.83 L552.09 328.89 L552.53 329.92 L552.96 330.32 L553.40 330.29 L553.84 328.81 L554.28 330.03 L554.72 329.56 L555.15 329.10 L555.59 329.09 L556.03 328.67 L556.47 329.67 L556.91 328.92 L557.34 328.99 L557.78 329.51 L558.22 329.20 L558.66 330.92 L559.09 330.29 L559.51 330.06 L559.93 329.23 L560.35 330.02 L560.76 329.49 L561.18 330.11 L561.60 329.71 L562.01 329.56 L562.60 320.62 L563.18 309.85 L563.69 317.36 L564.20 325.91 L564.72 322.02 L565.23 317.15 L565.81 319.05 L566.39 321.53 L566.81 321.77 L567.23 320.25 L567.65 319.96 L568.06 319.47 L568.48 319.73 L568.90 320.29 L569.31 318.61 L569.75 318.26 L570.19 318.71 L570.63 318.40 L571.07 318.96 L571.50 317.88 L572.23 304.74 L572.74 314.62 L573.26 322.99 L573.73 324.55 L574.20 325.24 L574.68 323.60 L575.15 325.18 L575.59 324.36 L576.03 324.97 L576.47 325.05 L576.91 324.37 L577.34 325.46 L577.78 325.22 L578.22 325.32 L578.66 325.91 L579.09 325.68 L579.53 325.91 L579.97 326.61 L580.41 325.97 L580.85 325.38 L581.28 325.97 L581.72 327.48 L582.16 326.98 L582.60 326.21 L583.04 326.92 L583.47 326.01 L583.91 327.37 L584.33 327.28 L584.75 327.74 L585.16 327.18 L585.58 327.05 L586.00 327.19 L586.42 324.90 L586.83 325.91 L587.32 326.59 L587.81 328.95 L588.29 329.56 L588.88 322.93 L589.46 317.88 L589.97 322.57 L590.48 329.56 L590.92 328.40 L591.36 328.88 L591.80 328.85 L592.23 331.16 L592.67 330.29 L593.09 330.57 L593.51 330.25 L593.92 328.72 L594.34 329.46 L594.76 329.51 L595.17 327.24 L595.59 328.83 L596.08 329.43 L596.56 328.16 L597.05 326.64 L597.54 327.48 L598.02 329.22 L598.51 330.29 L599.00 330.00 L599.48 327.06 L599.97 325.91 L600.46 327.63 L600.94 330.26 L601.43 331.02 L601.85 331.41 L602.26 331.91 L602.68 331.36 L603.10 332.85 L603.52 332.65 L603.93 333.61 L604.35 332.48 L604.76 332.34 L605.16 333.68 L605.57 332.07 L605.97 333.47 L606.38 333.71 L606.78 333.41 L607.19 331.89 L607.59 332.15 L608.00 333.21 L608.41 332.20 L608.83 332.84 L609.24 332.41 L609.75 331.86 L610.26 329.04 L610.77 328.32 L611.28 329.20 L611.80 332.17 L612.31 332.92 L612.74 333.85 L613.18 332.66 L613.62 333.01 L614.06 334.23 L614.50 333.07 L614.93 333.72 L615.37 333.43 L615.81 333.53 L616.25 333.16 L616.69 333.01 L617.12 333.98 L617.56 333.30 L618.00 334.12 L618.44 334.45 L618.85 334.38 L619.26 333.61 L619.66 332.96 L620.07 334.63 L620.48 334.27 L620.89 333.72 L621.30 333.80 L621.71 334.65 L622.12 334.73 L622.53 333.94 L622.96 333.73 L623.40 333.14 L623.84 334.08 L624.28 333.17 L624.72 335.28 L625.15 335.11 L625.59 334.45 L626.00 334.97 L626.41 333.60 L626.82 333.67 L627.23 335.13 L627.64 332.90 L628.04 335.29 L628.45 332.99 L628.86 333.33 L629.27 332.66 L629.68 333.43 L630.12 332.41 L630.55 334.57 L630.99 334.37 L631.43 332.96 L631.87 334.91 L632.31 336.11 L632.74 334.96 L633.15 336.23 L633.56 335.37 L633.97 334.62 L634.38 334.58 L634.79 335.63 L635.20 335.50 L635.61 335.89 L636.01 334.65 L636.42 333.43 L636.83 334.45 L637.24 333.59 L637.65 334.48 L638.06 333.71 L638.47 335.20 L638.88 334.61 L639.28 334.84 L639.69 332.59 L640.10 332.87 L640.51 332.78 L640.92 333.94 L641.33 330.88 L641.74 328.35 L642.15 327.30 L642.55 329.99 L642.96 333.43 L643.37 334.15 L643.78 333.62 L644.19 334.12 L644.60 333.23 L645.01 335.66 L645.42 334.74 L645.82 333.08 L646.23 335.54 L646.64 335.12 L647.05 334.96 L647.46 333.34 L647.87 335.79 L648.28 335.30 L648.69 336.14 L649.09 335.47 L649.61 330.88 L650.12 331.51 L650.63 333.07 L651.14 333.43 L651.55 333.74 L651.96 334.34 L652.36 333.79 L652.77 333.55 L653.18 332.92 L653.69 335.55 L654.20 337.01 L654.61 336.39 L655.02 337.14 L655.43 335.56 L655.84 336.87 L656.25 335.47 L656.69 334.45 L657.12 335.99 L657.56 336.56 L658.00 338.06 L658.44 338.12 L658.88 338.67 L659.31 337.52 L659.82 338.53 L660.34 338.39 L660.85 338.03" stroke="#000" stroke-width="0.85"/>
<path d="M78.00 632.85 L78.29 634.73 L78.58 636.83 L78.88 637.89 L79.17 635.93 L79.46 639.42 L79.75 642.05 L80.04 640.39 L80.34 640.00 L80.63 639.98 L80.92 642.34 L81.19 641.45 L81.45 643.83 L81.72 643.47 L81.98 645.19 L82.25 641.65 L82.51 645.37 L82.78 642.29 L83.04 643.58 L83.31 642.16 L83.57 644.55 L83.84 643.80 L84.10 645.69 L84.37 643.28 L84.64 642.75 L84.90 645.18 L85.17 643.37 L85.43 645.68 L85.70 643.40 L85.96 647.32 L86.23 642.16 L86.49 646.27 L86.76 644.53 L87.03 643.72 L87.31 642.14 L87.58 646.11 L87.85 644.99 L88.13 645.68 L88.40 642.75 L88.68 644.82 L88.95 643.07 L89.21 643.27 L89.47 640.68 L89.72 628.75 L89.97 621.17 L90.22 629.00 L90.47 640.68 L90.80 639.84 L91.14 637.96 L91.46 637.44 L91.78 638.66 L92.10 638.69 L92.35 634.17 L92.60 631.39 L92.85 636.24 L93.10 638.69 L93.42 641.28 L93.74 637.04 L94.06 639.42 L94.34 639.94 L94.62 638.90 L94.90 642.06 L95.18 643.54 L95.47 639.02 L95.75 641.61 L96.00 640.17 L96.25 635.77 L96.50 640.83 L96.75 641.61 L96.98 642.34 L97.26 642.10 L97.54 641.03 L97.82 641.90 L98.10 645.45 L98.39 645.52 L98.67 643.43 L98.92 639.91 L99.17 636.50 L99.42 639.86 L99.67 643.43 L99.90 643.80 L100.17 643.37 L100.45 646.87 L100.72 645.50 L100.99 643.78 L101.27 646.97 L101.54 645.32 L101.81 647.67 L102.09 646.72 L102.36 647.60 L102.64 646.24 L102.91 645.93 L103.18 648.38 L103.46 646.18 L103.73 647.98 L104.00 645.00 L104.28 647.45 L104.57 644.64 L104.86 644.05 L105.15 643.34 L105.45 640.29 L105.74 639.42 L106.07 641.74 L106.41 641.75 L106.66 634.38 L106.91 628.47 L107.16 636.90 L107.41 641.75 L107.67 645.09 L107.93 643.80 L108.20 644.25 L108.47 642.90 L108.75 647.02 L109.02 646.19 L109.30 646.74 L109.57 647.35 L109.84 647.16 L110.12 646.72 L110.38 647.45 L110.65 647.65 L110.91 644.81 L111.18 646.96 L111.44 646.01 L111.71 647.32 L111.97 645.22 L112.24 646.88 L112.51 647.68 L112.77 647.46 L113.04 648.18 L113.30 648.82 L113.57 647.95 L113.83 647.69 L114.10 647.08 L114.36 649.92 L114.63 647.38 L114.89 648.78 L115.16 652.02 L115.43 649.57 L115.69 650.87 L115.96 650.36 L116.29 644.12 L116.62 641.41 L116.87 633.43 L117.12 624.82 L117.37 635.43 L117.62 641.41 L117.89 636.76 L118.15 633.58 L118.41 637.76 L118.67 641.07 L118.92 638.19 L119.17 633.58 L119.42 639.26 L119.67 641.07 L120.00 645.01 L120.34 649.64 L120.63 648.89 L120.92 649.62 L121.21 652.57 L121.50 649.61 L121.80 651.09 L122.03 652.07 L122.28 648.64 L122.53 645.26 L122.78 647.76 L123.03 652.07 L123.35 652.68 L123.67 654.19 L123.99 654.01 L124.26 653.82 L124.53 655.61 L124.81 651.85 L125.08 653.25 L125.35 655.88 L125.63 653.40 L125.90 657.10 L126.18 654.74 L126.46 655.36 L126.74 655.62 L127.02 656.73 L127.30 654.04 L127.58 654.29 L127.86 655.18 L128.11 651.46 L128.36 647.45 L128.61 650.61 L128.86 655.18 L129.18 653.60 L129.50 655.15 L129.82 655.47 L130.09 657.48 L130.35 653.13 L130.61 655.27 L130.87 656.74 L131.13 655.64 L131.39 655.21 L131.65 657.62 L131.91 654.86 L132.17 653.75 L132.43 656.98 L132.69 654.97 L132.95 655.95 L133.21 656.40 L133.47 656.20 L133.74 655.54 L134.01 657.04 L134.27 654.61 L134.54 658.63 L134.80 658.73 L135.07 659.84 L135.33 659.95 L135.60 656.37 L135.86 660.30 L136.13 656.33 L136.39 658.39 L136.69 659.30 L136.98 658.25 L137.27 656.13 L137.56 655.93 L137.85 659.12 L138.12 659.45 L138.39 658.54 L138.66 658.01 L138.93 658.85 L139.20 660.22 L139.47 657.01 L139.74 658.78 L140.00 658.97 L140.27 658.64 L140.52 651.46 L140.77 646.72 L141.02 651.41 L141.27 658.64 L141.59 656.71 L141.91 657.81 L142.23 658.39 L142.51 655.83 L142.78 657.74 L143.05 656.31 L143.33 653.40 L143.60 653.73 L143.88 654.49 L144.15 649.70 L144.42 651.09 L144.68 654.45 L144.95 653.14 L145.20 625.78 L145.45 591.82 L145.70 623.34 L145.95 653.14 L146.28 652.44 L146.61 655.47 L146.88 654.92 L147.14 655.01 L147.41 655.29 L147.67 654.38 L147.94 657.24 L148.21 656.32 L148.47 656.96 L148.74 657.45 L149.00 653.98 L149.27 660.20 L149.53 657.66 L149.80 657.63 L150.06 655.19 L150.33 659.90 L150.59 657.56 L150.86 655.90 L151.13 656.28 L151.39 657.53 L151.66 656.38 L151.92 657.10 L152.19 657.21 L152.45 658.39 L152.72 661.66 L152.98 658.24 L153.25 660.18 L153.51 659.31 L153.78 657.72 L154.05 658.89 L154.31 661.46 L154.58 658.60 L154.84 658.56 L155.11 663.54 L155.37 661.31 L155.65 660.51 L155.94 660.54 L156.22 663.01 L156.50 660.68 L156.78 664.55 L157.06 662.41 L157.31 634.85 L157.56 608.03 L157.81 637.21 L158.06 662.41 L158.29 662.77 L158.58 662.83 L158.88 664.78 L159.17 658.83 L159.46 663.72 L159.75 661.31 L160.02 659.72 L160.29 659.42 L160.56 659.71 L160.83 661.80 L161.10 665.91 L161.36 661.07 L161.63 662.50 L161.90 661.05 L162.17 663.50 L162.42 659.59 L162.67 659.85 L162.92 663.92 L163.17 663.50 L163.44 665.65 L163.71 661.42 L163.98 664.16 L164.25 663.82 L164.52 665.93 L164.78 663.94 L165.05 666.95 L165.32 663.39 L165.59 665.69 L165.86 663.62 L166.12 667.67 L166.39 664.25 L166.65 664.00 L166.92 666.77 L167.18 664.14 L167.45 664.20 L167.71 665.61 L167.98 664.73 L168.25 666.02 L168.51 667.15 L168.78 667.32 L169.04 667.72 L169.31 667.16 L169.57 668.33 L169.84 668.94 L170.10 667.44 L170.37 667.91 L170.63 663.68 L170.90 664.68 L171.17 667.75 L171.43 665.69 L171.70 662.68 L171.96 664.22 L172.23 668.44 L172.49 667.36 L172.76 666.64 L173.02 667.90 L173.29 669.32 L173.55 665.62 L173.82 666.30 L174.08 668.06 L174.35 668.61 L174.61 667.59 L174.87 671.49 L175.13 669.19 L175.39 671.32 L175.65 670.35 L175.91 672.80 L176.18 674.31 L176.44 668.57 L176.70 671.33 L176.96 671.16 L177.22 670.84 L177.48 672.71 L177.74 674.05 L178.00 672.99 L178.22 669.56 L178.48 668.95 L178.75 672.60 L179.02 672.07 L179.28 672.81 L179.55 668.12 L179.81 668.56 L180.08 673.15 L180.34 672.78 L180.61 672.36 L180.87 672.23 L181.14 671.75 L181.43 672.13 L181.72 672.81 L182.01 672.02 L182.31 670.32 L182.60 673.21 L182.83 672.60 L183.08 620.15 L183.33 568.98 L183.58 621.91 L183.83 672.60 L184.09 674.84 L184.35 671.75 L184.61 674.24 L184.88 672.98 L185.14 673.84 L185.40 672.85 L185.66 672.60 L185.93 671.55 L186.19 673.22 L186.45 674.11 L186.72 675.44 L186.98 673.21 L187.24 675.37 L187.51 674.68 L187.77 676.21 L188.04 676.15 L188.31 675.15 L188.57 674.90 L188.84 673.62 L189.10 675.58 L189.37 672.84 L189.63 674.08 L189.90 676.13 L190.16 678.49 L190.43 677.03 L190.69 674.35 L190.96 676.96 L191.22 676.09 L191.49 675.33 L191.76 675.76 L192.02 679.41 L192.29 678.07 L192.55 677.96 L192.82 677.59 L193.08 679.48 L193.33 678.95 L193.59 677.30 L193.85 680.03 L194.11 676.58 L194.36 680.46 L194.62 678.36 L194.88 678.51 L195.14 676.24 L195.39 678.84 L195.65 677.95 L195.91 679.98 L196.17 677.13 L196.42 679.01 L196.68 676.71 L196.94 680.19 L197.20 678.32 L197.45 676.12 L197.71 675.76 L197.97 680.41 L198.23 679.82 L198.49 680.25 L198.74 680.97 L199.00 679.33 L199.26 675.35 L199.52 677.05 L199.77 678.52 L200.03 678.06 L200.29 679.08 L200.55 676.72 L200.80 678.21 L201.06 678.94 L201.32 680.99 L201.58 679.05 L201.83 680.35 L202.09 676.97 L202.35 678.35 L202.61 681.59 L202.86 678.08 L203.12 680.43 L203.38 679.78 L203.64 678.47 L203.90 678.83 L204.15 677.99 L204.41 677.10 L204.67 677.27 L204.93 682.37 L205.18 679.01 L205.44 677.37 L205.70 681.78 L205.96 679.78 L206.23 678.05 L206.50 679.91 L206.78 678.16 L207.05 683.22 L207.32 678.99 L207.60 683.47 L207.87 680.23 L208.15 681.24 L208.44 680.50 L208.73 677.10 L209.02 675.06 L209.31 673.98 L209.61 669.56 L209.84 669.56 L210.09 652.28 L210.34 635.99 L210.59 654.64 L210.84 669.56 L211.07 669.56 L211.43 674.70 L211.80 681.24 L212.06 682.52 L212.33 678.82 L212.59 680.20 L212.86 683.29 L213.12 679.79 L213.39 679.87 L213.65 677.27 L213.92 678.72 L214.18 681.74 L214.45 681.81 L214.72 679.05 L214.99 681.89 L215.26 677.32 L215.54 682.03 L215.81 677.07 L216.08 679.55 L216.36 681.62 L216.63 681.92 L216.91 680.51 L217.23 680.50 L217.55 677.22 L217.86 680.15 L218.11 678.24 L218.36 674.67 L218.61 676.65 L218.86 680.15 L219.18 680.50 L219.50 678.40 L219.82 679.78 L220.05 681.00 L220.30 677.19 L220.55 676.13 L220.80 678.42 L221.05 681.00 L221.37 683.94 L221.69 682.15 L222.01 683.43 L222.28 684.21 L222.55 681.10 L222.81 681.13 L223.08 682.37 L223.34 683.80 L223.61 686.71 L223.87 684.54 L224.14 687.05 L224.40 687.48 L224.67 682.81 L224.93 684.89 L225.20 682.35 L225.47 686.14 L225.73 684.04 L226.00 683.45 L226.26 683.38 L226.53 684.46 L226.79 682.71 L227.06 683.11 L227.32 682.20 L227.59 682.83 L227.85 684.16 L228.12 685.76 L228.38 682.63 L228.65 684.70 L228.92 684.65 L229.18 682.43 L229.45 683.40 L229.71 680.13 L229.98 685.04 L230.24 686.15 L230.51 683.46 L230.77 683.43 L231.03 680.88 L231.29 681.51 L231.55 684.60 L231.80 682.47 L232.06 685.76 L232.32 684.14 L232.58 685.52 L232.83 685.95 L233.09 687.01 L233.35 683.72 L233.61 682.36 L233.87 685.59 L234.12 685.46 L234.38 684.15 L234.64 688.66 L234.90 683.73 L235.15 686.35 L235.42 683.91 L235.68 687.21 L235.95 686.48 L236.21 687.73 L236.48 687.12 L236.75 684.63 L237.01 686.78 L237.28 689.27 L237.54 687.92 L237.81 688.71 L238.07 687.08 L238.34 685.07 L238.60 686.10 L238.87 685.47 L239.13 687.66 L239.40 684.45 L239.67 687.75 L239.93 688.68 L240.20 683.85 L240.46 685.79 L240.73 687.76 L240.99 686.35 L241.26 685.93 L241.52 688.37 L241.79 686.21 L242.05 684.25 L242.32 685.09 L242.59 688.89 L242.85 686.60 L243.12 687.94 L243.38 687.64 L243.65 690.29 L243.91 687.81 L244.17 690.04 L244.43 685.57 L244.69 685.43 L244.94 688.24 L245.20 686.65 L245.46 690.92 L245.72 686.36 L245.97 690.68 L246.23 689.01 L246.49 687.19 L246.75 684.64 L247.00 690.98 L247.26 688.02 L247.52 688.86 L247.78 687.15 L248.03 687.02 L248.29 688.54 L248.56 690.17 L248.82 686.45 L249.09 689.92 L249.35 686.39 L249.62 686.65 L249.88 686.45 L250.15 689.73 L250.42 687.02 L250.68 686.74 L250.95 687.69 L251.21 689.27 L251.48 686.41 L251.74 686.70 L252.01 687.88 L252.27 689.59 L252.54 690.88 L252.80 687.14 L253.07 687.68 L253.34 687.69 L253.60 685.81 L253.87 689.51 L254.13 687.81 L254.45 685.00 L254.77 687.15 L255.09 688.54 L255.34 685.15 L255.59 679.78 L255.84 686.23 L256.09 688.54 L256.41 687.80 L256.73 689.06 L257.05 689.27 L257.32 689.84 L257.58 686.91 L257.85 685.81 L258.11 690.41 L258.38 685.80 L258.64 686.00 L258.91 691.26 L259.17 686.60 L259.44 689.01 L259.71 688.83 L259.97 687.81 L260.25 689.26 L260.53 688.60 L260.82 688.27 L261.10 687.20 L261.38 687.75 L261.66 688.69 L261.91 688.38 L262.16 684.89 L262.41 684.79 L262.66 688.69 L262.98 685.18 L263.30 686.07 L263.62 689.27 L263.91 687.42 L264.20 690.06 L264.50 690.88 L264.79 688.66 L265.08 692.19 L265.35 693.72 L265.61 694.00 L265.88 693.13 L266.14 694.88 L266.41 694.57 L266.67 688.70 L266.94 688.77 L267.20 688.57 L267.47 687.90 L267.73 689.62 L268.00 690.73 L268.26 690.15 L268.51 693.78 L268.77 692.24 L269.02 690.56 L269.28 690.90 L269.53 693.06 L269.79 693.75 L270.04 693.25 L270.30 694.32 L270.55 691.30 L270.81 692.92 L271.07 693.38 L271.32 690.22 L271.58 690.70 L271.83 694.06 L272.09 692.69 L272.34 693.48 L272.60 692.70 L272.86 690.99 L273.11 692.24 L273.37 693.38 L273.63 695.92 L273.89 692.04 L274.14 690.58 L274.40 694.17 L274.66 695.00 L274.92 695.38 L275.17 696.19 L275.43 693.88 L275.69 693.27 L275.95 695.85 L276.21 692.61 L276.46 691.28 L276.72 692.31 L276.98 694.16 L277.24 696.16 L277.49 693.66 L277.75 696.54 L278.01 693.13 L278.27 692.00 L278.52 691.78 L278.78 697.09 L279.04 691.60 L279.30 694.35 L279.55 692.38 L279.81 696.12 L280.07 693.05 L280.33 692.13 L280.58 697.49 L280.84 692.24 L281.10 693.50 L281.36 694.89 L281.63 692.86 L281.91 697.63 L282.18 693.25 L282.45 693.86 L282.73 691.17 L283.00 692.43 L283.27 695.66 L283.55 693.43 L283.88 692.46 L284.22 693.43 L284.47 678.85 L284.72 659.85 L284.97 676.33 L285.22 693.43 L285.48 694.16 L285.74 693.43 L286.03 693.34 L286.32 696.73 L286.61 693.88 L286.91 695.76 L287.20 695.62 L287.45 695.23 L287.71 697.74 L287.97 691.87 L288.23 696.26 L288.49 695.03 L288.74 693.19 L289.00 696.56 L289.26 697.54 L289.52 696.00 L289.77 693.12 L290.03 693.99 L290.29 692.61 L290.55 694.23 L290.80 697.86 L291.06 694.27 L291.32 697.08 L291.58 694.89 L291.83 696.27 L292.09 693.29 L292.35 694.06 L292.61 693.92 L292.86 695.23 L293.12 695.11 L293.38 697.06 L293.64 695.23 L293.90 694.11 L294.15 694.05 L294.41 695.74 L294.67 692.82 L294.93 691.59 L295.18 690.75 L295.44 692.14 L295.70 690.58 L295.96 693.43 L296.22 696.73 L296.49 691.89 L296.75 691.13 L297.02 697.10 L297.28 690.68 L297.55 697.44 L297.81 697.09 L298.08 696.33 L298.35 692.48 L298.61 691.94 L298.88 694.89 L299.14 696.52 L299.41 692.11 L299.67 697.76 L299.94 697.18 L300.20 698.56 L300.47 695.33 L300.73 694.17 L301.00 692.80 L301.26 695.04 L301.53 699.86 L301.80 697.08 L302.05 699.41 L302.31 697.94 L302.57 696.77 L302.83 698.47 L303.08 699.62 L303.34 698.60 L303.60 696.24 L303.86 696.34 L304.11 699.31 L304.37 696.94 L304.63 696.58 L304.89 696.13 L305.14 700.10 L305.40 698.80 L305.66 699.86 L305.92 696.38 L306.18 699.27 L306.43 699.09 L306.69 696.70 L306.95 698.39 L307.21 699.59 L307.46 698.19 L307.72 700.22 L307.98 698.34 L308.24 699.42 L308.49 699.18 L308.75 700.10 L309.01 697.12 L309.27 696.63 L309.52 697.78 L309.78 697.64 L310.04 698.59 L310.30 701.24 L310.55 700.00 L310.81 696.88 L311.07 698.64 L311.33 699.75 L311.59 700.04 L311.84 697.90 L312.10 701.72 L312.36 700.55 L312.62 703.36 L312.87 697.37 L313.13 701.50 L313.39 701.69 L313.65 701.29 L313.90 701.68 L314.16 701.98 L314.42 702.00 L314.68 701.44 L314.93 700.73 L315.20 697.75 L315.47 698.78 L315.73 700.69 L316.00 702.23 L316.26 703.32 L316.53 700.77 L316.79 699.09 L317.06 702.69 L317.32 701.14 L317.59 701.99 L317.85 700.00 L318.17 697.77 L318.49 701.01 L318.81 700.36 L319.06 700.68 L319.31 694.89 L319.56 696.96 L319.81 700.36 L320.13 703.25 L320.45 702.32 L320.77 700.73 L321.11 701.37 L321.44 698.39 L321.69 689.73 L321.94 678.83 L322.19 691.06 L322.44 698.39 L322.70 700.52 L322.96 696.35 L323.24 696.40 L323.51 700.69 L323.78 695.41 L324.06 693.64 L324.33 699.68 L324.61 695.55 L324.88 695.25 L325.15 697.08 L325.42 697.41 L325.68 696.66 L325.95 695.06 L326.21 693.36 L326.48 695.17 L326.75 699.26 L327.01 694.47 L327.28 696.89 L327.54 693.31 L327.81 698.35 L328.07 695.62 L328.41 693.93 L328.74 697.57 L328.99 691.46 L329.24 681.75 L329.49 692.18 L329.74 697.57 L330.00 702.03 L330.26 699.27 L330.54 697.44 L330.81 703.31 L331.08 701.97 L331.36 697.39 L331.63 700.86 L331.91 705.92 L332.18 702.19 L332.45 702.19 L332.71 699.44 L332.97 702.50 L333.23 701.16 L333.48 702.37 L333.74 704.50 L334.00 700.30 L334.26 706.17 L334.51 703.04 L334.77 704.13 L335.03 698.73 L335.29 700.55 L335.54 699.89 L335.80 702.20 L336.06 702.12 L336.32 701.50 L336.57 699.75 L336.83 703.65 L337.09 706.36 L337.35 702.31 L337.60 700.68 L337.86 706.80 L338.12 700.79 L338.38 706.21 L338.64 701.96 L338.89 701.01 L339.15 701.86 L339.41 706.79 L339.67 704.07 L339.92 701.66 L340.18 706.71 L340.44 706.90 L340.70 707.59 L340.95 707.25 L341.21 704.38 L341.47 707.40 L341.73 701.54 L341.98 705.58 L342.24 703.14 L342.50 703.53 L342.76 702.75 L343.02 703.81 L343.27 704.12 L343.53 705.43 L343.79 708.34 L344.05 702.07 L344.30 706.54 L344.56 705.73 L344.82 706.51 L345.08 702.92 L345.33 709.27 L345.59 705.11 L345.87 708.07 L346.15 704.21 L346.44 706.61 L346.72 702.25 L347.00 704.00 L347.28 704.23 L347.53 697.63 L347.78 694.89 L348.03 698.58 L348.28 704.23 L348.60 702.67 L348.92 703.87 L349.24 703.65 L349.50 705.01 L349.76 706.96 L350.02 705.98 L350.28 704.91 L350.54 706.18 L350.81 702.15 L351.07 706.13 L351.33 703.29 L351.59 706.20 L351.85 703.70 L352.11 706.02 L352.37 706.30 L352.63 708.41 L352.89 705.11 L353.15 705.71 L353.40 703.70 L353.66 705.99 L353.91 702.74 L354.17 703.81 L354.42 706.98 L354.68 703.73 L354.93 708.74 L355.19 705.24 L355.45 706.56 L355.70 706.28 L355.96 706.24 L356.21 706.43 L356.47 709.02 L356.72 705.11 L356.98 704.80 L357.23 710.03 L357.49 705.95 L357.74 706.13 L358.00 705.84 L358.28 702.28 L358.56 707.31 L358.84 703.02 L359.12 707.29 L359.40 707.93 L359.68 705.40 L359.94 703.53 L360.19 707.04 L360.45 702.29 L360.71 707.96 L360.97 709.45 L361.22 707.80 L361.48 706.87 L361.74 704.54 L362.00 707.32 L362.26 707.42 L362.51 707.88 L362.77 706.30 L363.03 708.36 L363.29 703.94 L363.54 706.34 L363.80 708.56 L364.06 707.59 L364.38 709.34 L364.70 705.57 L365.02 706.13 L365.27 702.65 L365.52 696.64 L365.77 701.73 L366.02 706.13 L366.34 708.18 L366.66 702.99 L366.98 704.67 L367.24 705.30 L367.51 704.25 L367.77 706.87 L368.04 705.12 L368.31 704.00 L368.57 704.01 L368.84 704.95 L369.10 711.05 L369.37 710.06 L369.63 706.82 L369.90 709.05 L370.16 712.61 L370.41 712.19 L370.67 710.72 L370.93 711.21 L371.19 710.36 L371.44 710.61 L371.70 707.09 L371.96 705.29 L372.22 709.31 L372.47 710.91 L372.73 711.72 L372.99 711.18 L373.25 712.79 L373.50 711.84 L373.76 707.26 L374.02 713.72 L374.28 711.24 L374.53 707.82 L374.79 712.21 L375.04 712.96 L375.29 708.86 L375.55 713.22 L375.80 710.17 L376.05 715.03 L376.31 709.93 L376.56 715.52 L376.82 710.02 L377.07 711.48 L377.32 713.70 L377.58 713.16 L377.83 710.58 L378.09 712.15 L378.34 710.20 L378.59 711.15 L378.85 710.13 L379.10 716.50 L379.36 715.56 L379.61 714.65 L379.86 712.84 L380.12 713.43 L380.37 711.69 L380.62 711.15 L380.88 713.78 L381.13 709.94 L381.39 713.97 L381.64 712.05 L381.89 712.20 L382.15 717.15 L382.40 712.04 L382.66 713.86 L382.91 713.87 L383.16 712.45 L383.42 713.30 L383.67 715.82 L383.93 711.00 L384.18 713.85 L384.43 714.19 L384.69 717.41 L384.94 716.00 L385.19 715.44 L385.45 716.86 L385.70 714.79 L385.96 714.89 L386.22 715.13 L386.49 713.23 L386.75 714.41 L387.02 717.98 L387.28 710.04 L387.55 712.93 L387.81 714.38 L388.08 710.93 L388.35 716.10 L388.61 711.33 L388.88 713.43 L389.14 715.77 L389.41 712.66 L389.67 712.29 L389.94 708.02 L390.20 707.91 L390.47 710.86 L390.73 709.11 L391.00 702.96 L391.26 705.64 L391.53 702.20 L391.80 703.21 L392.06 702.21 L392.33 702.41 L392.59 703.67 L392.86 701.64 L393.13 700.19 L393.39 699.38 L393.66 705.13 L393.92 702.34 L394.17 700.93 L394.42 698.10 L394.67 700.66 L394.92 702.34 L395.17 699.85 L395.42 702.08 L395.67 701.57 L395.92 702.90 L396.18 701.75 L396.47 701.59 L396.76 705.64 L397.05 706.80 L397.34 709.69 L397.64 710.51 L397.95 710.06 L398.27 711.94 L398.59 711.97 L398.84 707.17 L399.09 706.13 L399.34 710.85 L399.59 711.97 L399.91 710.69 L400.23 712.59 L400.55 713.43 L400.82 711.15 L401.09 716.02 L401.36 712.81 L401.63 715.90 L401.90 711.81 L402.17 713.32 L402.44 714.90 L402.71 713.72 L402.97 714.40 L403.22 712.52 L403.47 707.59 L403.72 707.95 L403.97 714.40 L404.29 717.70 L404.61 711.50 L404.93 714.89 L405.19 718.64 L405.45 716.74 L405.71 716.26 L405.96 711.86 L406.22 718.89 L406.48 711.71 L406.74 717.15 L407.00 715.65 L407.25 718.00 L407.51 717.86 L407.77 716.24 L408.03 716.18 L408.28 716.33 L408.54 718.41 L408.80 719.20 L409.06 719.85 L409.31 717.08 L409.57 713.92 L409.82 716.26 L410.08 717.54 L410.33 718.18 L410.58 715.37 L410.84 716.46 L411.09 719.56 L411.34 715.29 L411.60 717.30 L411.85 721.02 L412.11 717.76 L412.36 715.86 L412.61 720.97 L412.87 715.77 L413.12 718.42 L413.38 718.87 L413.63 719.72 L413.88 720.08 L414.14 715.23 L414.39 714.91 L414.65 721.46 L414.90 715.83 L415.15 717.81 L415.41 720.51 L415.66 716.48 L415.91 715.24 L416.17 714.46 L416.42 718.91 L416.68 721.31 L416.93 719.53 L417.18 720.27 L417.44 721.16 L417.69 719.89 L417.95 720.03 L418.20 717.39 L418.45 717.65 L418.71 715.22 L418.96 717.33 L419.22 721.62 L419.47 717.26 L419.72 720.66 L419.98 720.12 L420.23 718.03 L420.48 715.68 L420.74 716.18 L420.99 719.27 L421.25 721.44 L421.50 721.21 L421.75 716.69 L422.01 721.92 L422.26 721.81 L422.52 718.59 L422.77 717.94 L423.02 724.05 L423.28 722.48 L423.53 717.66 L423.79 719.15 L424.04 722.86 L424.29 722.27 L424.55 719.70 L424.80 716.91 L425.05 722.48 L425.31 721.95 L425.56 721.90 L425.82 721.78 L426.07 717.77 L426.32 723.16 L426.58 716.42 L426.83 720.00 L427.09 723.79 L427.35 720.03 L427.60 721.12 L427.86 720.08 L428.12 723.16 L428.38 721.97 L428.64 718.00 L428.89 718.57 L429.15 723.81 L429.41 722.83 L429.67 717.15 L429.92 721.62 L430.18 719.45 L430.44 718.03 L430.70 722.79 L430.95 721.17 L431.21 720.73 L431.49 716.49 L431.77 715.46 L432.06 722.91 L432.34 719.45 L432.62 721.36 L432.90 718.10 L433.15 713.02 L433.40 709.05 L433.65 717.18 L433.90 718.10 L434.22 714.85 L434.54 718.03 L434.86 716.35 L435.12 718.00 L435.38 718.55 L435.64 720.99 L435.90 720.47 L436.16 715.55 L436.43 714.35 L436.69 716.26 L436.95 716.93 L437.21 715.74 L437.47 712.96 L437.73 722.15 L437.99 717.49 L438.25 718.83 L438.51 718.54 L438.78 714.68 L439.04 720.03 L439.31 715.86 L439.57 721.72 L439.84 715.27 L440.10 720.96 L440.37 719.35 L440.63 718.95 L440.90 717.79 L441.17 717.72 L441.43 717.81 L441.70 721.75 L441.96 718.41 L442.23 718.66 L442.49 720.19 L442.76 716.91 L443.02 717.95 L443.29 723.23 L443.55 718.91 L443.82 721.73 L444.08 719.73 L444.35 720.73 L444.61 719.10 L444.87 720.35 L445.13 719.87 L445.39 718.79 L445.65 717.34 L445.91 721.05 L446.18 723.88 L446.44 723.94 L446.70 719.31 L446.96 718.97 L447.22 719.47 L447.48 719.17 L447.74 719.83 L448.00 722.19 L448.26 722.78 L448.51 718.31 L448.77 721.98 L449.02 721.73 L449.28 723.97 L449.53 721.01 L449.79 717.48 L450.04 720.87 L450.30 723.47 L450.55 722.24 L450.81 722.35 L451.07 718.25 L451.32 720.08 L451.58 717.79 L451.83 719.80 L452.09 722.53 L452.34 720.37 L452.60 719.56 L452.86 717.55 L453.11 714.72 L453.37 719.04 L453.63 718.50 L453.89 721.93 L454.14 723.12 L454.40 718.93 L454.66 722.04 L454.92 717.49 L455.17 720.52 L455.43 721.22 L455.69 722.69 L455.95 720.17 L456.21 721.91 L456.46 717.76 L456.72 718.62 L456.98 720.29 L457.24 718.46 L457.49 721.70 L457.75 721.38 L458.01 721.75 L458.27 724.77 L458.52 716.05 L458.78 723.02 L459.04 723.84 L459.30 717.72 L459.55 719.72 L459.81 718.00 L460.07 720.58 L460.33 722.21 L460.58 726.39 L460.84 720.55 L461.10 720.82 L461.36 722.48 L461.61 725.94 L461.87 719.34 L462.12 724.19 L462.37 720.87 L462.63 719.18 L462.88 725.24 L463.13 722.44 L463.39 724.42 L463.64 721.86 L463.90 724.32 L464.15 721.18 L464.40 725.92 L464.66 720.63 L464.91 723.62 L465.17 724.24 L465.42 721.29 L465.67 718.54 L465.93 726.31 L466.18 728.23 L466.44 720.47 L466.69 720.97 L466.94 719.46 L467.20 723.21 L467.45 723.15 L467.70 720.35 L467.96 726.52 L468.21 725.67 L468.47 719.95 L468.72 721.81 L468.97 721.72 L469.23 723.43 L469.48 723.43 L469.74 720.79 L469.99 723.82 L470.24 722.32 L470.50 721.22 L470.75 721.58 L471.01 721.22 L471.26 720.29 L471.51 724.08 L471.77 720.76 L472.02 722.30 L472.27 723.04 L472.53 725.85 L472.78 724.27 L473.04 723.94 L473.29 725.82 L473.55 726.48 L473.81 726.33 L474.07 726.03 L474.32 724.01 L474.58 726.92 L474.84 720.75 L475.10 724.22 L475.36 725.94 L475.61 724.06 L475.87 721.52 L476.13 723.47 L476.39 724.42 L476.64 719.08 L476.90 723.26 L477.16 724.95 L477.42 722.48 L477.68 722.81 L477.94 720.71 L478.20 725.11 L478.46 722.66 L478.71 717.86 L478.97 723.65 L479.23 720.40 L479.49 717.14 L479.75 722.10 L480.01 720.03 L480.27 720.24 L480.52 716.32 L480.77 707.15 L481.02 711.15 L481.27 720.24 L481.53 722.93 L481.80 719.56 L482.06 720.40 L482.33 718.97 L482.59 719.20 L482.86 726.46 L483.12 716.76 L483.39 718.59 L483.65 726.38 L483.92 725.02 L484.18 719.62 L484.45 727.87 L484.72 724.67 L484.97 726.22 L485.22 723.18 L485.48 724.16 L485.73 723.39 L485.98 722.15 L486.24 720.96 L486.49 728.14 L486.75 724.46 L487.00 726.69 L487.25 726.37 L487.51 723.86 L487.76 722.08 L488.02 722.56 L488.27 727.62 L488.52 729.33 L488.78 724.42 L489.03 721.47 L489.29 727.21 L489.54 721.36 L489.79 726.86 L490.05 721.13 L490.30 728.05 L490.55 724.67 L490.81 721.33 L491.06 727.34 L491.32 726.37 L491.57 727.54 L491.82 726.71 L492.08 727.22 L492.33 724.03 L492.59 728.95 L492.84 725.01 L493.09 728.04 L493.35 722.02 L493.60 722.07 L493.86 725.64 L494.11 726.29 L494.36 728.81 L494.62 728.89 L494.87 723.97 L495.12 729.13 L495.38 727.69 L495.63 723.79 L495.89 721.19 L496.14 728.42 L496.39 725.40 L496.65 724.78 L496.90 723.81 L497.16 727.63 L497.41 731.02 L497.66 722.11 L497.92 727.97 L498.17 727.17 L498.43 727.68 L498.68 726.33 L498.93 726.15 L499.19 723.77 L499.44 727.22 L499.69 722.09 L499.95 723.32 L500.20 723.90 L500.46 726.87 L500.71 726.30 L500.96 723.09 L501.22 720.59 L501.47 729.81 L501.73 722.27 L501.98 726.75 L502.23 726.13 L502.49 727.75 L502.74 727.68 L503.00 727.78 L503.25 724.68 L503.50 728.96 L503.76 730.46 L504.01 727.19 L504.26 729.78 L504.52 723.40 L504.77 726.31 L505.03 724.38 L505.28 727.18 L505.53 731.66 L505.79 729.79 L506.04 730.35 L506.30 731.06 L506.55 731.17 L506.80 730.32 L507.06 730.86 L507.31 732.45 L507.57 724.05 L507.82 728.38 L508.07 727.59 L508.33 726.38 L508.58 723.58 L508.83 726.70 L509.09 729.37 L509.34 730.83 L509.60 728.70 L509.85 725.93 L510.10 728.79 L510.36 731.33 L510.61 732.37 L510.87 731.87 L511.12 726.65 L511.37 723.22 L511.63 729.40 L511.88 724.16 L512.14 729.43 L512.39 725.16 L512.64 728.15 L512.90 731.53 L513.15 725.44 L513.40 729.08 L513.66 732.30 L513.91 728.32 L514.17 724.48 L514.43 725.17 L514.69 724.45 L514.94 728.77 L515.20 731.39 L515.46 729.49 L515.72 727.81 L515.97 723.35 L516.23 728.74 L516.49 726.62 L516.75 725.95 L517.00 729.32 L517.26 724.43 L517.52 726.24 L517.78 722.93 L518.03 724.13 L518.29 726.13 L518.54 728.68 L518.79 727.37 L519.04 726.97 L519.29 725.52 L519.54 727.01 L519.79 716.05 L520.04 713.72 L520.29 723.43 L520.54 727.01 L520.88 728.48 L521.21 727.59 L521.47 728.55 L521.73 724.85 L521.98 725.54 L522.24 728.06 L522.50 728.70 L522.76 725.49 L523.02 728.81 L523.27 729.93 L523.53 725.00 L523.79 732.01 L524.05 724.37 L524.30 729.65 L524.56 725.25 L524.82 729.85 L525.08 731.52 L525.33 729.98 L525.59 729.05 L525.85 725.16 L526.10 725.70 L526.35 725.05 L526.61 727.74 L526.86 728.23 L527.11 726.76 L527.37 726.39 L527.62 731.16 L527.88 725.36 L528.13 730.03 L528.38 729.27 L528.64 732.51 L528.89 728.98 L529.15 730.30 L529.40 731.89 L529.65 725.33 L529.91 730.04 L530.16 732.70 L530.42 731.30 L530.67 727.25 L530.92 727.59 L531.18 725.14 L531.43 728.32 L531.68 724.99 L531.93 726.43 L532.18 727.94 L532.43 729.02 L532.68 728.76 L532.93 724.38 L533.18 714.45 L533.43 724.77 L533.68 728.76 L534.02 732.11 L534.35 729.05 L534.61 730.02 L534.87 732.78 L535.13 733.47 L535.39 727.89 L535.65 729.92 L535.91 726.18 L536.18 726.92 L536.44 732.35 L536.70 729.32 L536.96 733.29 L537.22 731.06 L537.48 731.48 L537.74 726.98 L538.00 729.78 L538.22 728.03 L538.48 730.31 L538.73 728.24 L538.99 731.87 L539.25 732.27 L539.51 731.43 L539.76 728.89 L540.02 722.91 L540.28 731.72 L540.54 729.29 L540.80 731.70 L541.05 727.42 L541.31 726.09 L541.57 725.67 L541.83 734.23 L542.08 726.09 L542.34 732.09 L542.60 728.76 L542.86 731.71 L543.13 729.45 L543.39 724.62 L543.66 725.69 L543.93 722.69 L544.19 726.57 L544.46 725.23 L544.72 721.44 L544.99 723.65 L545.25 726.24 L545.52 724.38 L545.84 725.98 L546.16 725.51 L546.48 724.79 L546.73 714.03 L546.98 695.18 L547.23 705.71 L547.48 724.79 L547.81 722.31 L548.15 725.11 L548.40 731.46 L548.66 728.78 L548.91 730.02 L549.17 730.95 L549.42 734.12 L549.68 725.12 L549.93 726.93 L550.19 726.89 L550.45 731.11 L550.70 729.20 L550.96 734.88 L551.21 731.27 L551.47 732.70 L551.72 726.32 L551.98 729.99 L552.23 729.04 L552.49 730.58 L552.74 734.34 L553.00 728.87 L553.26 729.05 L553.51 731.25 L553.77 731.30 L554.02 733.52 L554.28 730.95 L554.55 733.40 L554.82 726.68 L555.08 734.27 L555.35 728.80 L555.62 729.48 L555.89 729.11 L556.16 726.67 L556.43 729.38 L556.70 730.95 L556.95 728.50 L557.20 725.11 L557.45 725.02 L557.70 730.95 L558.02 732.77 L558.34 731.08 L558.66 730.95 L558.91 732.17 L559.16 728.73 L559.42 734.55 L559.67 727.76 L559.93 732.57 L560.18 726.98 L560.43 728.91 L560.69 734.27 L560.94 731.72 L561.20 728.60 L561.45 735.08 L561.70 730.41 L561.96 732.42 L562.21 726.69 L562.47 729.97 L562.72 733.19 L562.97 732.91 L563.23 735.87 L563.48 731.03 L563.73 733.29 L563.99 733.48 L564.24 732.39 L564.50 731.68 L564.75 732.78 L565.00 735.11 L565.26 731.40 L565.51 737.73 L565.77 728.91 L566.02 733.12 L566.27 730.55 L566.53 727.35 L566.78 729.06 L567.04 732.33 L567.29 736.31 L567.54 729.21 L567.80 728.68 L568.05 729.37 L568.30 736.50 L568.56 734.37 L568.81 736.35 L569.07 732.59 L569.32 735.05 L569.57 728.28 L569.83 728.26 L570.08 729.89 L570.34 732.41 L570.59 731.73 L570.84 733.69 L571.10 730.11 L571.35 728.70 L571.61 734.57 L571.86 734.30 L572.11 735.16 L572.37 736.95 L572.62 732.04 L572.87 731.42 L573.13 728.58 L573.38 733.09 L573.64 733.80 L573.89 734.62 L574.14 735.53 L574.40 729.37 L574.65 734.43 L574.91 731.84 L575.16 730.45 L575.41 732.28 L575.67 737.38 L575.92 736.59 L576.18 733.14 L576.43 733.28 L576.68 729.02 L576.94 736.22 L577.19 738.51 L577.44 732.66 L577.70 730.86 L577.95 737.39 L578.21 733.60 L578.46 735.23 L578.71 733.50 L578.97 734.99 L579.22 731.12 L579.48 737.67 L579.73 733.36 L579.98 734.85 L580.24 737.71 L580.49 736.06 L580.75 731.42 L581.00 731.25 L581.25 734.23 L581.51 734.21 L581.76 737.78 L582.01 733.87 L582.28 732.10 L582.54 737.98 L582.80 735.89 L583.06 737.51 L583.32 729.60 L583.58 735.88 L583.84 729.67 L584.10 737.21 L584.36 729.72 L584.62 737.18 L584.88 732.03 L585.14 733.84 L585.40 734.22 L585.66 732.41 L585.93 728.68 L586.19 733.09 L586.44 724.47 L586.69 711.24 L586.94 720.10 L587.19 733.09 L587.52 733.09 L587.85 733.87 L588.11 735.88 L588.37 737.19 L588.63 736.33 L588.88 736.68 L589.14 739.29 L589.40 731.44 L589.66 738.49 L589.91 729.42 L590.17 737.79 L590.43 732.56 L590.69 731.00 L590.95 738.83 L591.20 733.31 L591.46 735.66 L591.72 735.39 L591.98 735.61 L592.23 735.33 L592.49 735.43 L592.75 732.90 L593.01 735.25 L593.26 734.25 L593.52 739.67 L593.78 735.37 L594.04 731.42 L594.29 734.82 L594.55 738.15 L594.81 732.27 L595.07 740.68 L595.33 740.29 L595.58 738.07 L595.84 738.95 L596.10 738.30 L596.36 734.46 L596.61 736.79 L596.88 737.78 L597.15 737.98 L597.41 734.44 L597.68 734.18 L597.94 737.62 L598.21 733.09 L598.47 736.56 L598.74 736.79 L598.99 732.43 L599.24 716.35 L599.49 726.02 L599.74 736.79 L600.00 732.92 L600.26 736.79 L600.52 736.97 L600.77 740.84 L601.03 737.01 L601.28 734.55 L601.54 734.17 L601.80 740.35 L602.05 735.50 L602.31 733.43 L602.56 735.46 L602.82 734.94 L603.07 740.39 L603.33 734.53 L603.58 733.40 L603.84 735.55 L604.09 733.74 L604.35 735.25 L604.61 739.44 L604.86 735.85 L605.12 739.20 L605.37 737.52 L605.63 733.27 L605.89 736.23 L606.15 737.64 L606.40 734.58 L606.66 739.33 L606.92 741.33 L607.18 737.37 L607.43 742.02 L607.69 740.16 L607.95 736.69 L608.21 740.75 L608.46 740.95 L608.72 735.57 L608.98 736.66 L609.24 737.50 L609.49 733.67 L609.75 738.25 L610.03 741.63 L610.30 736.16 L610.57 734.50 L610.85 739.53 L611.12 738.74 L611.39 738.53 L611.67 738.08 L611.94 735.33 L612.22 731.85 L612.49 740.37 L612.77 740.83 L613.05 736.27 L613.30 716.25 L613.55 692.26 L613.80 712.83 L614.05 736.27 L614.42 736.79 L614.68 738.07 L614.93 740.32 L615.19 740.48 L615.45 740.56 L615.70 735.12 L615.96 736.66 L616.21 733.95 L616.47 735.53 L616.72 738.40 L616.98 737.00 L617.23 738.27 L617.49 736.90 L617.74 735.44 L618.00 739.55 L618.26 738.81 L618.51 738.98 L618.77 735.77 L619.02 734.82 L619.28 744.37 L619.53 737.54 L619.79 741.14 L620.04 738.70 L620.30 737.51 L620.55 734.11 L620.81 735.31 L621.07 737.25 L621.32 735.28 L621.58 733.10 L621.83 734.96 L622.09 738.47 L622.34 737.17 L622.60 735.25 L622.85 739.35 L623.11 733.54 L623.36 734.74 L623.62 736.79 L623.88 735.00 L624.14 741.15 L624.39 738.72 L624.65 742.05 L624.91 741.11 L625.17 741.48 L625.42 742.11 L625.68 741.13 L625.94 740.02 L626.20 734.89 L626.45 734.84 L626.71 741.69 L626.97 741.25 L627.23 740.14 L627.48 742.87 L627.74 738.70 L628.00 739.71 L628.36 742.93 L628.72 740.96 L628.98 740.10 L629.24 738.77 L629.50 738.71 L629.77 738.74 L630.03 745.26 L630.29 746.00 L630.55 743.16 L630.82 747.65 L631.08 746.87 L631.34 746.68 L631.60 747.13 L631.87 742.68 L632.13 745.51 L632.39 742.57 L632.65 747.53 L632.92 748.72 L633.18 747.20 L633.44 747.60 L633.70 744.55 L633.97 744.98 L634.23 745.76 L634.49 751.28 L634.76 751.10 L635.02 752.65 L635.28 748.84 L635.54 747.78 L635.81 745.59 L636.07 748.25 L636.33 746.08 L636.59 747.13 L636.86 747.74 L637.12 741.65 L637.38 749.55 L637.64 745.60 L637.91 743.88 L638.17 748.85 L638.43 741.79 L638.69 749.08 L638.96 745.51 L639.22 744.61 L639.48 745.94 L639.74 743.63 L640.01 747.87 L640.27 746.08 L640.53 744.30 L640.79 747.37 L641.06 748.35 L641.32 741.90 L641.58 749.68 L641.84 751.10 L642.11 746.46 L642.37 746.64 L642.63 749.81 L642.88 741.89 L643.14 750.49 L643.40 746.01 L643.65 745.82 L643.91 745.20 L644.17 749.67 L644.42 743.90 L644.68 741.91 L644.93 741.56 L645.19 745.06 L645.45 746.13 L645.70 748.46 L645.96 746.51 L646.22 745.00 L646.47 741.62 L646.73 741.79 L646.99 745.79 L647.24 741.50 L647.49 737.54 L647.74 747.41 L647.99 745.79 L648.29 749.20 L648.59 750.31 L648.89 745.67 L649.19 745.51 L649.46 747.68 L649.72 748.78 L649.98 749.84 L650.24 749.33 L650.51 742.46 L650.77 748.76 L651.03 752.85 L651.29 752.26 L651.56 743.71 L651.82 747.61 L652.08 746.50 L652.34 747.68 L652.61 748.92 L652.87 748.00 L653.13 751.24 L653.40 753.61 L653.66 753.03 L653.92 749.51 L654.18 750.72 L654.45 749.98 L654.71 749.57 L654.97 749.78 L655.23 748.01 L655.50 754.62 L655.76 747.87 L656.02 750.06 L656.28 752.69 L656.55 747.82 L656.81 745.18 L657.07 753.64 L657.33 750.88 L657.60 745.24 L657.86 753.95 L658.12 744.79 L658.38 750.31 L658.65 745.19 L658.91 749.91 L659.17 750.73 L659.43 748.92 L659.72 746.55 L660.00 748.60 L660.29 742.36 L660.57 745.51 L660.86 750.31 L661.14 748.92" stroke="#e80000" stroke-width="1.1"/>
<path d="M78.00 700.66 L78.26 701.80 L78.52 700.77 L78.77 699.11 L79.03 700.89 L79.29 700.63 L79.55 700.35 L79.80 702.09 L80.06 701.48 L80.32 700.32 L80.58 702.62 L80.83 702.70 L81.09 702.93 L81.35 700.30 L81.61 702.96 L81.86 700.47 L82.12 702.52 L82.38 702.12 L82.64 703.80 L82.89 701.11 L83.15 701.74 L83.41 703.78 L83.67 702.86 L83.93 703.49 L84.18 700.70 L84.44 702.83 L84.70 704.38 L84.96 703.35 L85.21 701.90 L85.47 701.20 L85.73 704.01 L85.99 700.93 L86.24 700.99 L86.50 704.29 L86.76 702.85 L86.99 703.03 L87.24 700.04 L87.49 698.47 L87.74 703.23 L87.99 703.03 L88.27 701.48 L88.55 704.12 L88.83 705.07 L89.12 705.16 L89.40 704.11 L89.68 703.58 L89.97 701.92 L90.26 701.75 L90.55 699.09 L90.85 698.97 L91.14 696.28 L91.46 695.25 L91.78 697.01 L92.10 695.79 L92.35 690.64 L92.60 684.60 L92.85 689.68 L93.10 695.79 L93.33 695.55 L93.60 695.64 L93.88 695.18 L94.15 697.78 L94.42 695.78 L94.70 696.30 L94.97 696.47 L95.24 696.80 L95.52 697.74 L95.81 699.93 L96.10 698.15 L96.39 698.38 L96.69 699.44 L96.98 699.93 L97.27 702.88 L97.56 700.70 L97.85 705.25 L98.15 703.73 L98.44 706.50 L98.77 705.98 L99.11 706.50 L99.36 700.19 L99.61 697.01 L99.86 703.44 L100.11 706.50 L100.37 706.20 L100.63 706.50 L100.90 707.95 L101.18 706.34 L101.45 705.98 L101.72 708.24 L102.00 708.61 L102.27 708.00 L102.54 708.90 L102.82 708.69 L103.18 708.37 L103.55 710.88 L103.84 708.13 L104.13 710.10 L104.42 708.87 L104.72 706.94 L105.01 705.04 L105.26 704.01 L105.51 707.29 L105.76 707.15 L106.01 705.59 L106.26 706.79 L106.51 693.30 L106.76 683.14 L107.01 696.79 L107.26 706.79 L107.59 709.22 L107.93 707.96 L108.20 707.48 L108.47 708.42 L108.75 710.69 L109.02 709.95 L109.30 707.99 L109.57 712.70 L109.84 711.53 L110.12 710.88 L110.38 711.78 L110.65 709.52 L110.91 709.79 L111.18 711.27 L111.44 711.64 L111.71 709.86 L111.97 710.46 L112.24 710.59 L112.51 711.64 L112.77 711.13 L113.04 712.34 L113.30 713.98 L113.57 711.15 L113.84 711.51 L114.11 713.69 L114.37 711.43 L114.64 712.24 L114.91 712.36 L115.18 713.02 L115.45 713.72 L115.71 714.13 L115.98 713.65 L116.25 713.07 L116.58 703.36 L116.92 696.28 L117.17 691.67 L117.42 691.90 L117.67 695.20 L117.92 696.28 L118.08 691.12 L118.33 683.74 L118.58 679.49 L118.83 683.48 L119.08 691.12 L119.11 695.91 L119.36 694.30 L119.61 690.44 L119.86 693.43 L120.11 695.91 L120.37 703.31 L120.63 712.34 L120.92 713.58 L121.21 711.76 L121.50 715.99 L121.80 713.80 L122.05 712.11 L122.31 714.95 L122.57 714.96 L122.83 713.30 L123.08 713.05 L123.34 715.41 L123.60 713.27 L123.86 713.52 L124.11 715.53 L124.37 715.48 L124.63 715.25 L124.89 712.98 L125.14 713.40 L125.40 713.13 L125.66 716.86 L125.92 713.24 L126.18 715.26 L126.44 712.72 L126.71 716.00 L126.97 715.22 L127.24 714.52 L127.51 715.45 L127.77 716.30 L128.04 716.10 L128.30 716.31 L128.55 708.86 L128.80 704.31 L129.05 709.08 L129.30 716.31 L129.56 717.74 L129.82 716.72 L130.09 718.61 L130.35 717.42 L130.61 716.92 L130.87 717.26 L131.13 718.48 L131.39 718.71 L131.65 716.06 L131.91 719.03 L132.17 717.00 L132.43 716.29 L132.69 719.29 L132.95 715.98 L133.21 716.39 L133.47 718.18 L133.73 719.34 L133.99 716.69 L134.25 716.93 L134.50 719.88 L134.76 720.43 L135.02 719.80 L135.28 718.23 L135.54 720.24 L135.79 720.43 L136.05 717.03 L136.31 717.54 L136.57 720.09 L136.82 720.32 L137.08 722.00 L137.34 718.65 L137.60 718.17 L137.85 719.64 L138.11 721.37 L138.37 718.44 L138.63 721.22 L138.88 720.43 L139.14 719.67 L139.40 720.18 L139.66 721.85 L139.91 721.65 L140.17 717.99 L140.43 718.15 L140.69 718.87 L140.95 721.05 L141.20 722.04 L141.46 719.72 L141.72 718.84 L141.98 720.20 L142.23 720.36 L142.49 718.45 L142.75 720.17 L143.02 718.53 L143.28 722.50 L143.54 718.53 L143.80 721.52 L144.06 722.73 L144.32 720.53 L144.58 721.01 L144.84 721.07 L145.10 720.75 L145.36 722.36 L145.62 721.71 L145.88 721.09 L146.14 719.22 L146.41 721.44 L146.66 717.96 L146.91 714.53 L147.16 715.28 L147.41 721.44 L147.74 720.43 L148.07 721.82 L148.34 723.09 L148.60 722.66 L148.87 720.66 L149.13 723.92 L149.40 721.23 L149.67 720.51 L149.93 720.67 L150.20 722.02 L150.46 721.43 L150.73 722.18 L150.99 721.82 L151.26 722.39 L151.52 722.62 L151.79 722.08 L152.06 723.66 L152.32 721.40 L152.59 721.65 L152.85 722.05 L153.12 722.70 L153.37 720.26 L153.62 717.45 L153.87 718.66 L154.12 722.70 L154.37 723.44 L154.62 723.62 L154.87 722.70 L155.12 723.31 L155.37 723.28 L155.65 721.96 L155.94 722.49 L156.22 723.68 L156.50 724.20 L156.78 722.37 L157.06 723.28 L157.31 694.60 L157.56 664.01 L157.81 691.10 L158.06 723.28 L158.29 723.28 L158.56 723.61 L158.82 722.36 L159.09 724.68 L159.35 726.02 L159.62 724.03 L159.88 723.60 L160.15 722.86 L160.42 723.40 L160.68 724.94 L160.95 726.76 L161.21 726.20 L161.47 726.15 L161.73 726.69 L161.98 727.17 L162.24 724.68 L162.50 725.58 L162.76 726.83 L163.02 726.61 L163.27 727.96 L163.53 725.81 L163.79 727.03 L164.05 727.92 L164.30 726.20 L164.56 727.95 L164.82 725.61 L165.08 725.66 L165.33 725.83 L165.59 726.20 L165.86 725.24 L166.12 728.18 L166.39 724.36 L166.65 726.43 L166.92 724.80 L167.18 727.63 L167.45 725.73 L167.71 725.73 L167.98 726.42 L168.25 724.94 L168.51 724.74 L168.78 724.37 L169.05 725.68 L169.32 723.74 L169.59 726.26 L169.86 725.98 L170.12 726.51 L170.39 727.60 L170.66 727.69 L170.93 726.69 L171.18 725.81 L171.43 721.09 L171.68 723.54 L171.93 726.69 L172.25 728.52 L172.57 725.25 L172.89 727.66 L173.15 725.00 L173.40 728.43 L173.66 727.81 L173.91 727.83 L174.17 725.40 L174.42 726.90 L174.68 727.82 L174.93 727.68 L175.19 729.43 L175.45 727.44 L175.70 729.84 L175.96 728.55 L176.21 730.68 L176.47 730.50 L176.72 731.19 L176.98 726.38 L177.23 729.67 L177.49 727.64 L177.74 727.30 L178.00 729.12 L178.29 729.21 L178.59 730.18 L178.88 730.77 L179.18 729.76 L179.43 725.62 L179.68 725.77 L179.93 727.95 L180.18 729.76 L180.45 727.56 L180.72 730.06 L180.99 728.85 L181.25 730.67 L181.52 730.81 L181.79 730.21 L182.06 732.22 L182.33 732.70 L182.60 730.88 L182.86 729.59 L183.12 730.00 L183.39 730.62 L183.65 729.69 L183.91 730.76 L184.17 731.77 L184.44 732.12 L184.70 730.56 L184.96 730.28 L185.22 733.32 L185.49 731.98 L185.75 731.33 L186.00 728.92 L186.25 726.50 L186.50 729.12 L186.75 731.33 L187.03 729.65 L187.31 730.56 L187.59 730.80 L187.87 730.26 L188.16 733.73 L188.44 731.61 L188.69 730.62 L188.95 730.03 L189.20 729.86 L189.45 732.17 L189.71 732.11 L189.96 730.65 L190.22 734.73 L190.47 729.76 L190.72 731.07 L190.98 733.51 L191.23 731.43 L191.48 732.92 L191.74 733.59 L191.99 732.16 L192.25 730.60 L192.50 731.48 L192.75 733.39 L193.01 730.51 L193.26 734.11 L193.52 730.18 L193.77 731.85 L194.02 731.13 L194.28 732.34 L194.53 732.61 L194.79 732.78 L195.05 732.35 L195.31 730.86 L195.57 730.08 L195.82 731.48 L196.08 729.97 L196.34 730.89 L196.60 728.97 L196.85 733.26 L197.11 732.19 L197.37 732.15 L197.63 728.22 L197.88 732.87 L198.14 731.98 L198.40 731.46 L198.66 730.88 L198.91 732.02 L199.17 731.96 L199.43 730.65 L199.69 733.55 L199.95 733.46 L200.20 733.76 L200.46 731.63 L200.72 730.20 L200.98 732.72 L201.23 731.11 L201.49 733.37 L201.75 735.10 L202.01 732.22 L202.26 733.91 L202.52 735.63 L202.78 734.01 L203.04 733.80 L203.29 732.78 L203.54 733.91 L203.80 735.48 L204.05 736.50 L204.31 733.99 L204.56 732.10 L204.81 736.22 L205.07 735.65 L205.32 732.33 L205.58 734.75 L205.83 733.34 L206.08 733.33 L206.34 734.94 L206.59 736.28 L206.84 736.42 L207.10 734.73 L207.35 736.24 L207.61 734.23 L207.86 735.64 L208.11 735.43 L208.37 736.57 L208.62 732.20 L208.88 734.53 L209.13 733.33 L209.38 736.53 L209.64 736.10 L209.89 733.41 L210.15 734.42 L210.40 735.98 L210.65 736.41 L210.91 734.71 L211.16 737.02 L211.41 734.77 L211.67 736.35 L211.92 736.73 L212.18 735.07 L212.43 733.36 L212.68 736.57 L212.94 734.38 L213.19 734.56 L213.45 733.60 L213.70 737.17 L213.95 734.02 L214.21 736.03 L214.46 738.09 L214.72 735.99 L214.97 734.42 L215.22 734.81 L215.48 738.33 L215.73 736.85 L215.98 736.09 L216.24 735.51 L216.49 734.27 L216.75 735.00 L217.00 735.38 L217.25 734.36 L217.51 737.83 L217.76 738.39 L218.02 735.04 L218.27 734.58 L218.52 737.17 L218.78 739.45 L219.03 734.81 L219.29 734.33 L219.54 735.09 L219.79 735.93 L220.05 737.29 L220.30 739.65 L220.55 737.45 L220.78 737.72 L221.03 735.44 L221.28 733.07 L221.53 735.94 L221.78 737.72 L222.04 739.37 L222.30 739.69 L222.55 735.79 L222.81 739.01 L223.07 739.20 L223.32 739.42 L223.58 737.32 L223.83 740.40 L224.09 737.40 L224.35 740.48 L224.60 739.20 L224.86 737.03 L225.11 741.50 L225.37 739.44 L225.63 738.34 L225.88 740.62 L226.14 742.19 L226.39 739.64 L226.65 737.90 L226.90 740.20 L227.16 740.17 L227.41 741.13 L227.66 738.44 L227.92 739.09 L228.17 739.66 L228.43 738.55 L228.68 738.28 L228.93 740.50 L229.19 741.20 L229.44 738.29 L229.69 738.14 L229.95 741.49 L230.20 740.10 L230.46 739.66 L230.71 739.00 L230.96 740.66 L231.22 738.78 L231.47 738.35 L231.73 737.58 L231.98 739.64 L232.23 738.91 L232.49 740.66 L232.74 737.38 L233.00 741.50 L233.25 738.01 L233.50 741.75 L233.76 741.17 L234.01 737.40 L234.26 741.95 L234.52 738.24 L234.77 738.92 L235.03 740.16 L235.28 740.04 L235.53 740.63 L235.79 740.22 L236.04 741.06 L236.30 742.22 L236.55 740.16 L236.80 739.46 L237.06 740.48 L237.31 740.54 L237.57 740.67 L237.82 742.33 L238.07 741.09 L238.33 740.81 L238.59 740.13 L238.85 741.11 L239.11 740.32 L239.37 741.52 L239.62 741.74 L239.88 740.14 L240.14 740.59 L240.40 743.46 L240.66 743.14 L240.92 743.55 L241.18 742.35 L241.44 741.03 L241.69 744.40 L241.95 741.64 L242.20 737.53 L242.45 736.72 L242.70 740.08 L242.95 741.64 L243.27 742.45 L243.59 742.19 L243.91 741.82 L244.17 744.09 L244.42 741.73 L244.67 743.34 L244.93 739.99 L245.18 743.28 L245.44 742.95 L245.69 742.95 L245.94 742.41 L246.20 742.47 L246.45 741.17 L246.71 742.87 L246.96 740.65 L247.21 742.53 L247.47 745.02 L247.72 742.73 L247.97 743.61 L248.23 742.00 L248.48 745.96 L248.74 741.61 L248.99 743.81 L249.24 744.74 L249.50 746.25 L249.75 744.01 L250.01 745.84 L250.26 742.97 L250.51 742.41 L250.77 745.90 L251.02 743.08 L251.28 743.31 L251.53 743.45 L251.78 745.99 L252.04 745.98 L252.29 744.75 L252.54 743.55 L252.80 742.83 L253.05 740.77 L253.31 743.41 L253.56 742.83 L253.81 745.29 L254.07 745.35 L254.32 741.91 L254.58 745.59 L254.83 745.58 L255.08 744.11 L255.34 744.32 L255.59 743.28 L255.91 740.43 L256.23 741.64 L256.55 743.53 L256.80 739.53 L257.05 738.18 L257.30 739.69 L257.55 743.53 L257.82 742.77 L258.09 744.20 L258.36 745.95 L258.63 741.61 L258.90 745.95 L259.16 742.08 L259.43 745.04 L259.70 742.51 L259.97 744.01 L260.23 743.77 L260.50 744.40 L260.76 743.03 L261.02 743.98 L261.28 742.20 L261.55 743.91 L261.81 746.51 L262.07 743.17 L262.33 741.92 L262.60 745.64 L262.86 743.40 L263.12 744.93 L263.37 738.15 L263.62 735.26 L263.87 742.02 L264.12 744.93 L264.40 746.65 L264.68 742.50 L264.97 742.94 L265.25 744.86 L265.53 746.19 L265.81 745.47 L266.08 743.98 L266.36 745.88 L266.63 745.22 L266.91 745.30 L267.18 748.17 L267.45 744.54 L267.73 746.44 L268.00 746.93 L268.28 745.31 L268.56 744.80 L268.84 744.33 L269.12 746.11 L269.40 742.97 L269.68 745.04 L269.93 744.74 L270.19 744.26 L270.44 742.09 L270.69 746.82 L270.95 746.71 L271.20 747.79 L271.46 742.97 L271.71 744.00 L271.96 743.54 L272.22 747.43 L272.47 744.90 L272.73 747.02 L272.98 744.58 L273.23 743.41 L273.49 745.77 L273.74 748.54 L273.99 744.19 L274.25 744.66 L274.50 745.53 L274.76 747.26 L275.01 748.50 L275.26 745.12 L275.52 746.50 L275.77 747.48 L276.03 748.95 L276.28 746.64 L276.53 743.49 L276.79 745.57 L277.04 748.91 L277.30 749.36 L277.55 750.43 L277.80 745.22 L278.06 747.94 L278.31 745.45 L278.56 747.15 L278.82 746.74 L279.07 746.07 L279.33 747.75 L279.58 747.57 L279.83 749.27 L280.09 747.67 L280.34 746.81 L280.60 746.73 L280.85 748.49 L281.10 749.02 L281.36 747.96 L281.61 746.91 L281.87 749.34 L282.12 748.39 L282.37 745.76 L282.63 747.44 L282.88 749.60 L283.13 745.62 L283.39 746.90 L283.64 747.07 L283.90 747.69 L284.15 749.79 L284.40 749.54 L284.66 750.50 L284.91 750.48 L285.17 746.34 L285.42 748.67 L285.67 745.97 L285.93 749.95 L286.18 750.39 L286.44 749.86 L286.69 747.99 L286.94 746.47 L287.20 748.69 L287.45 746.94 L287.70 750.20 L287.96 751.15 L288.21 746.69 L288.47 747.99 L288.72 748.03 L288.97 748.97 L289.23 749.66 L289.48 748.59 L289.74 751.52 L289.99 750.61 L290.24 748.20 L290.50 749.38 L290.75 748.13 L291.01 748.70 L291.26 749.17 L291.51 750.12 L291.77 750.49 L292.02 748.01 L292.27 746.56 L292.53 751.73 L292.78 746.78 L293.04 749.42 L293.29 751.82 L293.55 750.86 L293.81 748.56 L294.07 747.12 L294.32 749.85 L294.58 749.92 L294.84 751.70 L295.10 748.27 L295.36 748.34 L295.61 746.44 L295.87 750.29 L296.13 747.14 L296.39 750.91 L296.64 751.25 L296.90 747.24 L297.16 747.34 L297.42 748.69 L297.70 747.96 L297.98 750.27 L298.25 751.05 L298.53 749.62 L298.81 749.64 L299.06 744.58 L299.31 742.85 L299.56 744.60 L299.81 749.64 L300.07 747.71 L300.34 750.15 L300.59 749.21 L300.85 750.17 L301.11 751.39 L301.37 749.29 L301.62 750.53 L301.88 748.53 L302.14 749.01 L302.40 749.82 L302.65 752.85 L302.91 750.70 L303.17 750.05 L303.43 753.07 L303.68 753.63 L303.94 749.53 L304.20 752.31 L304.46 749.07 L304.72 751.61 L304.97 751.30 L305.22 752.18 L305.48 753.95 L305.73 752.93 L305.98 751.66 L306.24 749.23 L306.49 750.13 L306.75 750.17 L307.00 751.81 L307.25 751.84 L307.51 751.96 L307.76 753.36 L308.02 752.11 L308.27 753.94 L308.52 750.56 L308.78 749.88 L309.03 752.87 L309.29 753.26 L309.54 751.26 L309.79 753.02 L310.05 754.66 L310.30 753.03 L310.55 752.34 L310.81 754.77 L311.06 752.29 L311.32 755.77 L311.57 749.79 L311.82 751.06 L312.08 751.07 L312.33 753.02 L312.59 751.64 L312.84 753.61 L313.09 750.37 L313.35 753.44 L313.60 750.67 L313.86 751.07 L314.11 751.44 L314.36 753.68 L314.62 751.15 L314.87 752.82 L315.12 754.84 L315.38 751.99 L315.63 750.79 L315.89 751.50 L316.14 754.65 L316.39 752.34 L316.64 751.78 L316.89 754.55 L317.15 750.41 L317.40 750.73 L317.65 752.77 L317.90 746.32 L318.15 744.74 L318.40 747.79 L318.65 752.77 L318.98 751.25 L319.31 753.07 L319.58 753.27 L319.84 753.09 L320.11 752.50 L320.38 749.45 L320.64 749.04 L320.91 749.28 L321.17 748.80 L321.44 753.31 L321.70 751.10 L321.97 748.88 L322.23 750.15 L322.50 747.73 L322.76 751.13 L323.03 752.85 L323.30 751.72 L323.56 751.12 L323.83 752.33 L324.09 751.93 L324.36 749.37 L324.62 751.73 L324.89 749.32 L325.15 750.88 L325.41 749.62 L325.66 751.63 L325.91 750.74 L326.17 750.58 L326.42 749.24 L326.68 750.39 L326.93 750.23 L327.18 749.33 L327.44 749.70 L327.69 753.75 L327.95 752.95 L328.20 754.08 L328.45 753.90 L328.71 750.20 L328.96 752.06 L329.22 749.28 L329.47 752.68 L329.72 751.21 L329.98 750.73 L330.23 754.50 L330.48 754.50 L330.74 750.80 L330.99 753.07 L331.25 752.35 L331.50 754.70 L331.75 754.17 L332.01 751.34 L332.26 752.98 L332.52 754.36 L332.77 754.99 L333.02 753.29 L333.28 756.64 L333.53 752.51 L333.79 757.14 L334.04 752.99 L334.29 752.33 L334.55 753.13 L334.80 755.53 L335.05 756.90 L335.31 756.48 L335.56 756.78 L335.82 757.37 L336.07 753.84 L336.32 753.28 L336.58 753.74 L336.83 755.99 L337.09 756.07 L337.34 756.87 L337.59 755.35 L337.85 756.36 L338.10 758.22 L338.36 754.46 L338.61 754.54 L338.86 756.61 L339.12 757.94 L339.37 753.64 L339.62 755.85 L339.88 756.16 L340.13 755.87 L340.39 755.21 L340.64 757.66 L340.89 756.39 L341.15 754.90 L341.40 753.77 L341.66 754.96 L341.91 758.62 L342.16 754.51 L342.42 755.72 L342.67 755.26 L342.93 757.68 L343.18 756.02 L343.43 757.10 L343.69 756.34 L343.94 754.82 L344.19 758.34 L344.45 755.30 L344.70 756.22 L344.96 755.39 L345.21 758.35 L345.46 757.63 L345.72 758.46 L345.97 755.74 L346.23 758.50 L346.48 753.51 L346.73 755.61 L346.99 753.75 L347.24 758.25 L347.50 757.51 L347.75 755.09 L348.00 754.63 L348.26 759.10 L348.51 756.72 L348.77 758.11 L349.03 758.86 L349.28 759.63 L349.54 758.30 L349.80 753.51 L350.06 755.10 L350.31 754.81 L350.57 759.64 L350.83 755.54 L351.09 754.88 L351.34 757.43 L351.60 755.72 L351.86 758.51 L352.12 754.50 L352.38 756.80 L352.63 758.03 L352.89 757.45 L353.15 757.29 L353.40 756.72 L353.66 758.81 L353.91 756.61 L354.17 757.27 L354.42 759.59 L354.68 755.03 L354.93 755.07 L355.19 755.51 L355.45 758.83 L355.70 760.43 L355.96 758.78 L356.21 759.43 L356.47 760.29 L356.72 759.67 L356.98 757.60 L357.23 755.93 L357.49 759.05 L357.74 755.83 L358.00 758.18 L358.28 758.97 L358.56 760.53 L358.84 755.89 L359.12 760.09 L359.40 758.63 L359.68 757.23 L359.94 754.96 L360.19 759.33 L360.45 755.70 L360.71 755.02 L360.97 758.68 L361.22 757.36 L361.48 757.71 L361.74 760.31 L362.00 755.69 L362.26 755.31 L362.51 758.25 L362.77 758.65 L363.03 759.88 L363.29 758.07 L363.54 760.36 L363.80 757.50 L364.06 757.96 L364.38 756.13 L364.70 755.21 L365.02 757.96 L365.27 750.14 L365.52 739.71 L365.77 751.97 L366.02 757.96 L366.35 758.96 L366.69 757.96 L366.95 759.49 L367.21 758.70 L367.46 756.19 L367.72 758.57 L367.98 758.93 L368.24 758.07 L368.50 758.10 L368.76 758.14 L369.02 759.35 L369.28 759.46 L369.54 757.80 L369.80 759.88 L370.06 759.76 L370.32 759.27 L370.58 759.63 L370.84 760.25 L371.10 763.56 L371.36 760.15 L371.61 757.94 L371.87 760.50 L372.12 763.04 L372.37 759.89 L372.63 760.08 L372.88 758.01 L373.13 762.67 L373.39 761.57 L373.64 763.11 L373.90 758.70 L374.15 762.90 L374.40 758.68 L374.66 758.98 L374.91 761.87 L375.17 763.96 L375.42 760.09 L375.67 758.33 L375.93 762.58 L376.18 759.75 L376.44 762.05 L376.69 760.01 L376.94 759.76 L377.20 761.61 L377.45 761.23 L377.70 762.54 L377.96 759.18 L378.21 760.50 L378.47 761.93 L378.72 763.50 L378.97 763.94 L379.23 760.52 L379.48 760.68 L379.74 759.85 L379.99 762.16 L380.24 763.91 L380.50 761.28 L380.75 761.23 L381.01 759.86 L381.26 763.52 L381.51 763.73 L381.77 759.71 L382.02 764.46 L382.27 760.63 L382.53 761.15 L382.78 761.70 L383.04 762.34 L383.29 760.39 L383.55 759.63 L383.81 760.07 L384.07 764.32 L384.32 760.53 L384.58 763.41 L384.84 761.18 L385.10 761.52 L385.36 762.01 L385.61 763.31 L385.87 763.99 L386.13 759.46 L386.39 762.88 L386.64 762.27 L386.90 760.69 L387.16 760.56 L387.42 760.88 L387.70 761.25 L387.98 762.96 L388.26 761.09 L388.54 764.03 L388.82 762.49 L389.11 761.37 L389.36 754.39 L389.61 752.12 L389.86 757.69 L390.11 761.37 L390.37 760.71 L390.63 761.61 L390.89 759.17 L391.15 762.93 L391.41 762.40 L391.67 762.99 L391.93 763.86 L392.19 762.85 L392.45 760.74 L392.71 757.97 L392.97 757.76 L393.23 760.85 L393.49 760.28 L393.74 755.91 L393.99 755.77 L394.24 755.48 L394.49 760.28 L394.77 757.29 L395.05 759.47 L395.33 756.15 L395.61 762.42 L395.89 758.51 L396.18 759.42 L396.44 757.48 L396.71 762.00 L396.97 759.50 L397.24 762.51 L397.50 758.91 L397.77 758.69 L398.03 760.19 L398.30 763.51 L398.56 759.55 L398.83 762.41 L399.09 763.07 L399.35 762.82 L399.61 760.88 L399.87 762.66 L400.13 765.64 L400.38 766.13 L400.64 763.53 L400.90 763.23 L401.16 766.23 L401.41 764.33 L401.67 761.87 L401.93 761.34 L402.19 763.02 L402.44 762.87 L402.70 765.89 L402.96 760.74 L403.22 764.52 L403.47 764.53 L403.73 767.50 L403.98 767.44 L404.24 764.07 L404.49 761.80 L404.74 764.47 L405.00 763.58 L405.25 764.87 L405.51 764.42 L405.76 766.55 L406.01 766.56 L406.27 764.51 L406.52 764.91 L406.77 764.21 L407.03 762.40 L407.28 764.96 L407.54 767.28 L407.79 767.94 L408.04 764.99 L408.30 761.43 L408.55 767.17 L408.81 765.23 L409.06 765.92 L409.31 765.26 L409.57 762.26 L409.82 764.48 L410.08 766.56 L410.34 767.35 L410.59 766.96 L410.85 766.87 L411.10 767.38 L411.36 766.35 L411.61 762.86 L411.87 763.34 L412.12 766.66 L412.38 761.86 L412.64 760.40 L412.89 766.55 L413.15 765.03 L413.40 764.85 L413.66 763.21 L413.91 764.44 L414.17 761.30 L414.42 763.80 L414.65 764.53 L414.90 762.94 L415.15 760.15 L415.40 763.95 L415.65 764.53 L415.97 763.21 L416.29 766.71 L416.61 765.99 L416.87 763.80 L417.13 764.83 L417.39 767.20 L417.64 766.67 L417.90 762.16 L418.16 768.65 L418.42 769.32 L418.67 765.58 L418.93 764.28 L419.19 769.45 L419.45 767.49 L419.70 765.93 L419.96 765.38 L420.22 766.30 L420.48 767.29 L420.74 768.69 L420.99 766.72 L421.25 769.46 L421.50 764.22 L421.75 764.38 L422.01 767.12 L422.26 767.05 L422.52 769.73 L422.77 765.08 L423.02 769.25 L423.28 769.54 L423.53 769.10 L423.79 769.09 L424.04 766.74 L424.29 769.81 L424.55 765.56 L424.80 769.76 L425.05 769.54 L425.31 764.73 L425.56 766.60 L425.82 766.16 L426.07 767.71 L426.32 767.30 L426.58 764.54 L426.83 767.45 L427.09 765.14 L427.34 763.92 L427.59 769.88 L427.85 770.24 L428.10 767.02 L428.36 765.84 L428.61 769.77 L428.86 765.94 L429.12 769.25 L429.37 768.49 L429.62 766.10 L429.88 766.20 L430.13 769.37 L430.39 770.08 L430.64 767.12 L430.89 765.65 L431.15 771.04 L431.40 767.41 L431.66 765.00 L431.91 766.91 L432.16 766.57 L432.42 769.93 L432.67 768.18 L432.93 767.23 L433.18 772.44 L433.43 769.31 L433.69 771.07 L433.94 767.93 L434.19 765.56 L434.45 765.79 L434.70 767.39 L434.96 765.56 L435.21 769.33 L435.46 766.77 L435.72 766.59 L435.97 771.64 L436.23 771.44 L436.48 767.28 L436.73 769.58 L436.99 771.36 L437.24 771.11 L437.50 769.24 L437.75 770.51 L438.00 768.05 L438.26 765.98 L438.51 768.91 L438.77 765.86 L439.04 766.32 L439.30 767.88 L439.56 772.03 L439.82 767.16 L440.09 770.37 L440.35 769.13 L440.61 768.97 L440.87 769.39 L441.14 772.15 L441.40 772.32 L441.66 769.51 L441.91 764.24 L442.16 759.42 L442.41 765.94 L442.66 769.51 L442.89 769.64 L443.15 771.76 L443.40 766.69 L443.66 768.84 L443.91 771.07 L444.17 768.72 L444.42 771.03 L444.68 773.28 L444.93 767.07 L445.19 765.86 L445.45 766.98 L445.70 771.69 L445.96 769.30 L446.21 767.60 L446.47 772.64 L446.72 771.65 L446.98 769.75 L447.23 767.31 L447.49 770.54 L447.74 767.31 L448.00 770.36 L448.22 770.15 L448.48 773.47 L448.74 768.70 L449.00 771.16 L449.26 771.67 L449.52 768.15 L449.78 766.83 L450.04 770.22 L450.30 768.14 L450.57 770.68 L450.83 767.34 L451.09 768.06 L451.35 765.27 L451.61 766.17 L451.87 767.96 L452.12 768.49 L452.37 764.97 L452.62 770.25 L452.87 767.83 L453.12 766.64 L453.37 759.77 L453.62 758.47 L453.87 764.49 L454.12 766.64 L454.45 764.29 L454.79 765.77 L455.05 765.26 L455.31 764.25 L455.57 763.40 L455.83 764.54 L456.09 767.76 L456.35 766.02 L456.61 769.62 L456.87 767.01 L457.13 768.44 L457.40 766.89 L457.66 764.31 L457.92 766.41 L458.18 769.12 L458.44 767.96 L458.70 768.39 L458.95 766.82 L459.21 770.51 L459.47 768.02 L459.73 766.65 L459.98 769.31 L460.24 768.87 L460.50 769.78 L460.76 771.75 L461.01 772.99 L461.27 771.72 L461.53 769.52 L461.79 773.80 L462.04 769.45 L462.30 774.32 L462.56 771.94 L462.82 772.34 L463.08 770.26 L463.34 772.34 L463.60 774.61 L463.87 774.65 L464.13 770.32 L464.39 774.49 L464.65 769.12 L464.92 774.34 L465.18 771.48 L465.44 771.24 L465.70 773.18 L465.97 771.29 L466.22 766.88 L466.47 759.20 L466.72 762.85 L466.97 771.29 L467.29 771.87 L467.61 767.92 L467.93 770.88 L468.18 769.32 L468.44 769.64 L468.69 771.18 L468.95 773.16 L469.20 768.15 L469.46 769.82 L469.72 773.65 L469.97 768.13 L470.23 771.97 L470.48 772.64 L470.74 769.31 L470.99 772.11 L471.25 775.93 L471.50 771.58 L471.76 768.80 L472.01 772.81 L472.27 770.37 L472.53 768.93 L472.78 774.99 L473.04 772.34 L473.29 775.27 L473.55 771.90 L473.81 775.17 L474.07 772.07 L474.32 774.47 L474.58 770.34 L474.84 769.55 L475.10 769.02 L475.36 772.11 L475.61 774.54 L475.87 769.07 L476.13 768.58 L476.39 774.09 L476.64 774.41 L476.90 771.35 L477.16 773.43 L477.42 770.88 L477.71 768.02 L478.00 770.46 L478.29 766.01 L478.58 767.09 L478.88 765.77 L479.16 768.90 L479.44 767.41 L479.71 764.89 L479.99 766.05 L480.27 768.42 L480.52 763.62 L480.77 759.20 L481.02 761.44 L481.27 768.42 L481.52 767.01 L481.77 767.85 L482.02 769.77 L482.28 772.37 L482.53 770.88 L482.79 768.92 L483.05 773.61 L483.31 768.87 L483.57 773.22 L483.83 770.06 L484.09 773.79 L484.35 770.20 L484.61 769.60 L484.87 774.06 L485.13 773.15 L485.39 768.69 L485.65 774.15 L485.91 770.79 L486.18 772.34 L486.43 774.18 L486.68 775.54 L486.94 769.82 L487.19 770.70 L487.44 771.85 L487.70 775.79 L487.95 771.02 L488.21 773.45 L488.46 774.86 L488.71 770.24 L488.97 775.43 L489.22 772.49 L489.48 773.43 L489.73 772.31 L489.98 773.16 L490.24 773.91 L490.49 772.32 L490.75 770.72 L491.00 773.34 L491.25 770.40 L491.51 776.20 L491.76 774.29 L492.01 773.07 L492.27 773.46 L492.52 775.40 L492.78 773.69 L493.03 774.16 L493.28 775.06 L493.54 770.62 L493.79 771.01 L494.05 770.35 L494.30 776.57 L494.55 775.10 L494.81 773.91 L495.06 776.86 L495.32 771.59 L495.57 775.08 L495.82 774.00 L496.08 777.41 L496.33 771.96 L496.58 771.25 L496.84 770.98 L497.09 774.48 L497.35 771.73 L497.60 775.76 L497.85 774.53 L498.11 773.79 L498.36 773.28 L498.62 776.58 L498.87 776.60 L499.12 776.64 L499.38 771.85 L499.63 777.76 L499.89 777.24 L500.14 774.86 L500.39 776.22 L500.65 772.20 L500.90 775.56 L501.15 772.30 L501.41 774.30 L501.66 773.05 L501.92 772.15 L502.17 772.71 L502.42 774.95 L502.68 774.41 L502.93 774.11 L503.19 772.62 L503.44 779.28 L503.69 775.99 L503.95 777.97 L504.20 776.81 L504.45 779.15 L504.70 780.60 L504.95 777.18 L505.20 772.77 L505.46 773.85 L505.71 776.35 L505.96 778.46 L506.21 778.92 L506.46 775.28 L506.71 777.04 L506.97 772.43 L507.22 774.29 L507.47 777.96 L507.72 776.60 L507.97 776.67 L508.22 772.72 L508.48 774.02 L508.73 775.81 L508.98 775.80 L509.23 778.27 L509.48 776.24 L509.73 777.15 L509.99 774.30 L510.24 775.27 L510.49 778.97 L510.74 773.77 L510.99 776.72 L511.25 773.26 L511.50 774.49 L511.75 773.61 L512.01 773.45 L512.26 773.96 L512.52 778.93 L512.77 773.22 L513.02 777.89 L513.28 778.41 L513.53 774.45 L513.79 774.63 L514.04 773.70 L514.29 779.13 L514.55 776.59 L514.80 779.58 L515.05 778.87 L515.31 779.40 L515.56 776.77 L515.82 776.22 L516.07 774.48 L516.32 774.65 L516.58 776.32 L516.83 775.99 L517.11 777.77 L517.38 775.56 L517.65 777.66 L517.93 776.17 L518.20 774.21 L518.47 774.02 L518.75 775.37 L519.02 774.53 L519.36 776.57 L519.69 774.14 L519.94 765.61 L520.19 754.09 L520.44 765.40 L520.69 774.14 L520.95 771.54 L521.21 773.80 L521.47 775.44 L521.73 774.32 L521.98 774.51 L522.24 772.99 L522.50 771.89 L522.76 776.53 L523.02 771.45 L523.27 776.58 L523.53 777.82 L523.79 777.66 L524.05 776.44 L524.30 775.12 L524.56 778.91 L524.82 775.31 L525.08 778.59 L525.33 774.31 L525.59 775.99 L525.85 775.00 L526.10 777.03 L526.35 776.00 L526.61 773.75 L526.86 777.78 L527.11 773.79 L527.37 779.48 L527.62 774.70 L527.88 774.06 L528.13 776.33 L528.38 777.13 L528.64 778.56 L528.89 774.62 L529.15 775.01 L529.40 778.97 L529.65 775.96 L529.91 778.10 L530.16 775.61 L530.42 773.70 L530.67 773.13 L530.92 774.70 L531.18 776.64 L531.43 776.72 L531.75 778.85 L532.07 779.19 L532.39 775.90 L532.64 767.07 L532.89 755.55 L533.14 768.66 L533.39 775.90 L533.72 779.05 L534.06 775.26 L534.32 774.92 L534.58 773.01 L534.85 778.27 L535.11 773.01 L535.37 779.17 L535.64 778.11 L535.90 775.32 L536.16 779.60 L536.42 779.44 L536.69 778.59 L536.95 778.90 L537.21 778.65 L537.47 777.22 L537.74 775.75 L538.00 778.18 L538.26 779.54 L538.51 776.72 L538.76 778.75 L539.01 779.42 L539.26 779.79 L539.51 774.93 L539.76 776.04 L540.01 774.93 L540.26 777.74 L540.51 777.14 L540.76 780.29 L541.01 778.99 L541.26 773.71 L541.51 779.82 L541.76 774.47 L542.01 777.88 L542.26 778.20 L542.52 776.08 L542.77 777.41 L543.02 781.40 L543.27 776.86 L543.52 774.15 L543.77 775.13 L544.02 773.01 L544.27 778.73 L544.52 777.22 L544.77 777.36 L545.02 778.75 L545.27 777.06 L545.52 774.38 L545.77 777.83 L546.03 774.94 L546.28 772.05 L546.54 775.14 L546.79 771.53 L547.04 760.95 L547.29 765.75 L547.54 775.14 L547.85 775.55 L548.10 773.67 L548.35 776.60 L548.60 773.43 L548.86 779.43 L549.11 774.97 L549.36 777.95 L549.61 777.37 L549.86 776.56 L550.11 781.27 L550.36 778.89 L550.61 779.96 L550.86 780.30 L551.11 781.28 L551.36 777.88 L551.62 773.15 L551.88 776.85 L552.14 774.92 L552.40 777.86 L552.66 773.79 L552.91 772.34 L553.17 779.73 L553.43 775.99 L553.69 777.71 L553.95 774.49 L554.21 779.87 L554.47 774.25 L554.73 772.89 L554.99 774.69 L555.25 773.67 L555.51 775.76 L555.77 777.10 L556.03 775.55 L556.29 774.04 L556.55 777.11 L556.81 772.92 L557.07 778.33 L557.33 772.04 L557.59 774.26 L557.85 777.17 L558.11 778.35 L558.36 776.61 L558.62 780.61 L558.88 777.22 L559.14 779.09 L559.40 774.92 L559.66 780.90 L559.92 778.79 L560.18 777.15 L560.44 781.53 L560.70 779.05 L560.96 779.95 L561.22 776.59 L561.48 778.43 L561.74 779.74 L562.00 778.42 L562.26 777.38 L562.52 780.67 L562.78 778.43 L563.04 778.69 L563.30 781.57 L563.56 777.56 L563.82 782.35 L564.07 779.89 L564.33 777.26 L564.59 783.63 L564.85 777.35 L565.11 777.05 L565.37 780.22 L565.63 783.42 L565.89 782.19 L566.15 781.85 L566.41 778.36 L566.67 780.83 L566.93 784.22 L567.19 782.45 L567.45 782.07 L567.71 784.33 L567.97 781.47 L568.23 778.01 L568.49 783.78 L568.75 782.23 L569.01 781.02 L569.27 782.44 L569.52 779.94 L569.78 784.34 L570.04 781.39 L570.30 783.80 L570.56 782.76 L570.82 782.32 L571.08 784.39 L571.34 780.83 L571.60 784.50 L571.86 778.32 L572.12 778.42 L572.38 780.92 L572.64 785.97 L572.90 779.65 L573.16 782.46 L573.42 781.09 L573.68 779.27 L573.94 784.13 L574.20 782.75 L574.46 779.27 L574.72 782.55 L574.97 785.45 L575.23 783.65 L575.49 778.67 L575.75 785.79 L576.01 784.32 L576.27 786.37 L576.53 785.78 L576.79 780.20 L577.05 781.64 L577.31 786.13 L577.57 785.23 L577.83 782.64 L578.09 784.45 L578.35 786.26 L578.61 783.38 L578.87 784.98 L579.13 784.63 L579.39 783.14 L579.65 784.31 L579.91 780.53 L580.17 781.85 L580.42 783.22 L580.68 786.30 L580.94 780.68 L581.20 781.66 L581.46 782.06 L581.72 786.38 L581.98 786.15 L582.24 781.43 L582.50 784.56 L582.76 780.35 L583.02 786.28 L583.28 784.63 L583.54 784.66 L583.80 780.30 L584.06 782.55 L584.34 780.40 L584.62 778.36 L584.90 780.67 L585.18 777.62 L585.46 779.05 L585.89 780.49 L586.14 762.59 L586.39 747.52 L586.64 761.25 L586.89 780.49 L586.98 781.39 L587.23 784.16 L587.48 785.79 L587.73 780.28 L587.98 779.66 L588.23 787.12 L588.48 786.80 L588.73 784.89 L588.99 788.08 L589.25 784.40 L589.51 787.47 L589.77 785.61 L590.03 785.71 L590.29 786.61 L590.55 782.64 L590.81 788.57 L591.07 782.98 L591.33 783.09 L591.58 786.14 L591.84 788.22 L592.10 784.23 L592.36 784.63 L592.62 782.46 L592.88 789.48 L593.14 783.56 L593.40 786.06 L593.66 782.86 L593.93 783.87 L594.19 782.68 L594.45 782.13 L594.71 785.56 L594.97 787.72 L595.24 785.28 L595.49 780.25 L595.74 776.72 L595.99 777.81 L596.24 785.28 L596.57 780.76 L596.91 784.89 L597.20 782.43 L597.50 789.10 L597.80 786.97 L598.09 782.42 L598.39 784.89 L598.64 770.19 L598.89 753.36 L599.14 769.76 L599.39 784.89 L599.82 784.89 L600.09 786.42 L600.36 788.00 L600.62 782.54 L600.89 787.27 L601.15 782.25 L601.42 783.03 L601.68 789.09 L601.95 783.32 L602.21 784.87 L602.48 790.51 L602.74 787.23 L603.00 782.87 L603.26 789.25 L603.52 786.88 L603.78 785.27 L604.04 789.05 L604.30 784.70 L604.56 789.84 L604.82 784.79 L605.08 785.08 L605.34 787.75 L605.60 788.51 L605.86 787.56 L606.12 791.24 L606.38 790.63 L606.64 791.85 L606.90 790.24 L607.16 786.82 L607.42 789.56 L607.67 789.04 L607.93 786.17 L608.19 790.27 L608.45 787.66 L608.71 790.21 L608.97 785.40 L609.22 789.68 L609.48 785.53 L609.74 785.42 L610.00 788.70 L610.26 786.22 L610.51 787.60 L610.80 782.75 L611.08 784.01 L611.37 786.43 L611.65 779.12 L611.94 777.62 L612.22 779.64 L612.54 779.65 L612.86 783.62 L613.11 776.14 L613.36 764.85 L613.61 777.02 L613.86 783.62 L614.18 784.09 L614.50 787.60 L614.75 784.13 L615.01 788.30 L615.27 787.56 L615.53 789.95 L615.79 786.02 L616.05 786.14 L616.31 790.79 L616.56 789.10 L616.82 786.73 L617.08 787.58 L617.34 791.01 L617.60 794.47 L617.87 787.78 L618.13 795.54 L618.39 788.71 L618.65 791.17 L618.92 793.05 L619.18 792.01 L619.44 790.26 L619.70 789.50 L619.97 790.79 L620.23 791.12 L620.49 790.11 L620.75 792.15 L621.01 794.07 L621.26 787.88 L621.51 788.24 L621.77 793.61 L622.02 791.69 L622.27 792.40 L622.53 790.63 L622.78 784.36 L623.03 783.05 L623.28 788.53 L623.53 790.63 L623.85 791.29 L624.17 789.87 L624.43 788.34 L624.69 789.51 L624.95 791.66 L625.22 791.20 L625.48 788.28 L625.74 788.11 L626.00 788.06 L626.27 793.99 L626.53 793.89 L626.79 792.83 L627.05 788.37 L627.32 791.07 L627.58 791.01 L627.83 789.46 L628.09 790.77 L628.34 791.41 L628.59 793.05 L628.85 790.57 L629.10 793.03 L629.35 790.25 L629.60 786.90 L629.85 780.77 L630.10 784.32 L630.35 790.25 L630.67 785.27 L630.99 789.87 L631.25 789.94 L631.52 791.46 L631.78 794.12 L632.04 794.86 L632.30 795.46 L632.57 788.44 L632.83 792.52 L633.09 793.10 L633.35 790.12 L633.62 791.22 L633.88 792.96 L634.14 794.74 L634.41 794.43 L634.67 791.77 L634.93 796.47 L635.20 795.54 L635.46 792.30 L635.73 793.51 L635.99 792.42 L636.26 791.26 L636.52 796.43 L636.79 797.25 L637.05 789.39 L637.32 794.43 L637.57 789.43 L637.82 786.46 L638.07 792.63 L638.32 794.43 L638.64 796.15 L638.96 794.43 L639.21 794.47 L639.46 791.64 L639.72 790.64 L639.97 790.84 L640.22 790.02 L640.48 796.32 L640.73 792.91 L640.98 783.65 L641.23 783.05 L641.48 785.77 L641.73 792.91 L642.05 791.57 L642.37 792.15 L642.62 791.66 L642.88 790.97 L643.13 793.81 L643.38 793.07 L643.64 792.85 L643.89 795.22 L644.14 792.91 L644.39 784.83 L644.64 783.05 L644.89 785.32 L645.14 792.91 L645.46 790.45 L645.78 793.29 L646.08 789.54 L646.38 796.67 L646.69 791.77 L646.99 792.61 L647.24 789.23 L647.49 781.91 L647.74 786.91 L647.99 792.61 L648.31 789.13 L648.63 792.15 L648.89 795.22 L649.16 793.26 L649.42 791.36 L649.69 795.54 L649.95 791.80 L650.22 788.09 L650.48 790.83 L650.75 796.05 L651.01 791.42 L651.28 794.35 L651.55 796.04 L651.81 797.43 L652.08 793.51 L652.34 792.70 L652.61 794.43 L652.87 791.97 L653.13 794.43 L653.40 791.66 L653.66 794.68 L653.92 795.56 L654.18 795.45 L654.45 791.34 L654.71 797.96 L654.97 792.97 L655.23 791.47 L655.50 798.07 L655.76 796.82 L656.02 795.56 L656.28 794.69 L656.55 796.75 L656.81 795.51 L657.07 795.49 L657.33 796.81 L657.60 795.63 L657.86 793.94 L658.12 797.60 L658.38 794.21 L658.65 794.90 L658.91 798.75 L659.17 796.95 L659.43 795.56 L659.72 793.15 L660.00 798.91 L660.29 791.50 L660.57 798.43 L660.86 797.57 L661.14 796.70" stroke="#000" stroke-width="1.1"/>
</g>
<line x1="78.5" y1="12.8" x2="661.7" y2="12.8" stroke="#000" stroke-width="1"/>
<line x1="71.5" y1="339.1" x2="661.7" y2="339.1" stroke="#000" stroke-width="1"/>
<line x1="78.5" y1="12.8" x2="78.5" y2="341.1" stroke="#000" stroke-width="1.5"/>
<line x1="661.7" y1="12.3" x2="661.7" y2="339.6" stroke="#000" stroke-width="1.5"/>
<line x1="71.5" y1="339.10" x2="78.5" y2="339.10" stroke="#000" stroke-width="1"/>
<line x1="75.0" y1="306.36" x2="78.5" y2="306.36" stroke="#000" stroke-width="1"/>
<line x1="75.0" y1="287.21" x2="78.5" y2="287.21" stroke="#000" stroke-width="1"/>
<line x1="75.0" y1="273.62" x2="78.5" y2="273.62" stroke="#000" stroke-width="1"/>
<line x1="75.0" y1="263.08" x2="78.5" y2="263.08" stroke="#000" stroke-width="1"/>
<line x1="75.0" y1="254.46" x2="78.5" y2="254.46" stroke="#000" stroke-width="1"/>
<line x1="75.0" y1="247.18" x2="78.5" y2="247.18" stroke="#000" stroke-width="1"/>
<line x1="75.0" y1="240.87" x2="78.5" y2="240.87" stroke="#000" stroke-width="1"/>
<line x1="75.0" y1="235.31" x2="78.5" y2="235.31" stroke="#000" stroke-width="1"/>
<line x1="71.5" y1="230.33" x2="78.5" y2="230.33" stroke="#000" stroke-width="1"/>
<line x1="75.0" y1="197.59" x2="78.5" y2="197.59" stroke="#000" stroke-width="1"/>
<line x1="75.0" y1="178.44" x2="78.5" y2="178.44" stroke="#000" stroke-width="1"/>
<line x1="75.0" y1="164.85" x2="78.5" y2="164.85" stroke="#000" stroke-width="1"/>
<line x1="75.0" y1="154.31" x2="78.5" y2="154.31" stroke="#000" stroke-width="1"/>
<line x1="75.0" y1="145.70" x2="78.5" y2="145.70" stroke="#000" stroke-width="1"/>
<line x1="75.0" y1="138.41" x2="78.5" y2="138.41" stroke="#000" stroke-width="1"/>
<line x1="75.0" y1="132.11" x2="78.5" y2="132.11" stroke="#000" stroke-width="1"/>
<line x1="75.0" y1="126.54" x2="78.5" y2="126.54" stroke="#000" stroke-width="1"/>
<line x1="71.5" y1="121.57" x2="78.5" y2="121.57" stroke="#000" stroke-width="1"/>
<line x1="75.0" y1="88.82" x2="78.5" y2="88.82" stroke="#000" stroke-width="1"/>
<line x1="75.0" y1="69.67" x2="78.5" y2="69.67" stroke="#000" stroke-width="1"/>
<line x1="75.0" y1="56.08" x2="78.5" y2="56.08" stroke="#000" stroke-width="1"/>
<line x1="75.0" y1="45.54" x2="78.5" y2="45.54" stroke="#000" stroke-width="1"/>
<line x1="75.0" y1="36.93" x2="78.5" y2="36.93" stroke="#000" stroke-width="1"/>
<line x1="75.0" y1="29.65" x2="78.5" y2="29.65" stroke="#000" stroke-width="1"/>
<line x1="75.0" y1="23.34" x2="78.5" y2="23.34" stroke="#000" stroke-width="1"/>
<line x1="75.0" y1="17.78" x2="78.5" y2="17.78" stroke="#000" stroke-width="1"/>
<line x1="71.5" y1="12.80" x2="78.5" y2="12.80" stroke="#000" stroke-width="1"/>
<line x1="175.70" y1="339.1" x2="175.70" y2="343.6" stroke="#000" stroke-width="1.3"/>
<line x1="337.70" y1="339.1" x2="337.70" y2="343.6" stroke="#000" stroke-width="1.3"/>
<line x1="499.70" y1="339.1" x2="499.70" y2="343.6" stroke="#000" stroke-width="1.3"/>
<line x1="661.70" y1="339.1" x2="661.70" y2="343.6" stroke="#000" stroke-width="1.3"/>
<line x1="78.50" y1="339.1" x2="78.50" y2="341.6" stroke="#000" stroke-width="1.3"/>
<line x1="110.90" y1="339.1" x2="110.90" y2="341.6" stroke="#000" stroke-width="1.3"/>
<line x1="143.30" y1="339.1" x2="143.30" y2="341.6" stroke="#000" stroke-width="1.3"/>
<line x1="208.10" y1="339.1" x2="208.10" y2="341.6" stroke="#000" stroke-width="1.3"/>
<line x1="240.50" y1="339.1" x2="240.50" y2="341.6" stroke="#000" stroke-width="1.3"/>
<line x1="272.90" y1="339.1" x2="272.90" y2="341.6" stroke="#000" stroke-width="1.3"/>
<line x1="305.30" y1="339.1" x2="305.30" y2="341.6" stroke="#000" stroke-width="1.3"/>
<line x1="370.10" y1="339.1" x2="370.10" y2="341.6" stroke="#000" stroke-width="1.3"/>
<line x1="402.50" y1="339.1" x2="402.50" y2="341.6" stroke="#000" stroke-width="1.3"/>
<line x1="434.90" y1="339.1" x2="434.90" y2="341.6" stroke="#000" stroke-width="1.3"/>
<line x1="467.30" y1="339.1" x2="467.30" y2="341.6" stroke="#000" stroke-width="1.3"/>
<line x1="532.10" y1="339.1" x2="532.10" y2="341.6" stroke="#000" stroke-width="1.3"/>
<line x1="564.50" y1="339.1" x2="564.50" y2="341.6" stroke="#000" stroke-width="1.3"/>
<line x1="596.90" y1="339.1" x2="596.90" y2="341.6" stroke="#000" stroke-width="1.3"/>
<line x1="629.30" y1="339.1" x2="629.30" y2="341.6" stroke="#000" stroke-width="1.3"/>
<line x1="78.5" y1="497.4" x2="661.7" y2="497.4" stroke="#000" stroke-width="1"/>
<line x1="71.5" y1="823.2" x2="661.7" y2="823.2" stroke="#000" stroke-width="1"/>
<line x1="78.5" y1="497.4" x2="78.5" y2="825.2" stroke="#000" stroke-width="1.5"/>
<line x1="661.7" y1="496.9" x2="661.7" y2="823.7" stroke="#000" stroke-width="1.5"/>
<line x1="71.5" y1="823.20" x2="78.5" y2="823.20" stroke="#000" stroke-width="1"/>
<line x1="75.0" y1="786.84" x2="78.5" y2="786.84" stroke="#000" stroke-width="1"/>
<line x1="75.0" y1="765.56" x2="78.5" y2="765.56" stroke="#000" stroke-width="1"/>
<line x1="75.0" y1="750.47" x2="78.5" y2="750.47" stroke="#000" stroke-width="1"/>
<line x1="75.0" y1="738.76" x2="78.5" y2="738.76" stroke="#000" stroke-width="1"/>
<line x1="75.0" y1="729.20" x2="78.5" y2="729.20" stroke="#000" stroke-width="1"/>
<line x1="75.0" y1="721.11" x2="78.5" y2="721.11" stroke="#000" stroke-width="1"/>
<line x1="75.0" y1="714.11" x2="78.5" y2="714.11" stroke="#000" stroke-width="1"/>
<line x1="75.0" y1="707.93" x2="78.5" y2="707.93" stroke="#000" stroke-width="1"/>
<line x1="71.5" y1="702.40" x2="78.5" y2="702.40" stroke="#000" stroke-width="1"/>
<line x1="75.0" y1="666.04" x2="78.5" y2="666.04" stroke="#000" stroke-width="1"/>
<line x1="75.0" y1="644.76" x2="78.5" y2="644.76" stroke="#000" stroke-width="1"/>
<line x1="75.0" y1="629.67" x2="78.5" y2="629.67" stroke="#000" stroke-width="1"/>
<line x1="75.0" y1="617.96" x2="78.5" y2="617.96" stroke="#000" stroke-width="1"/>
<line x1="75.0" y1="608.40" x2="78.5" y2="608.40" stroke="#000" stroke-width="1"/>
<line x1="75.0" y1="600.31" x2="78.5" y2="600.31" stroke="#000" stroke-width="1"/>
<line x1="75.0" y1="593.31" x2="78.5" y2="593.31" stroke="#000" stroke-width="1"/>
<line x1="75.0" y1="587.13" x2="78.5" y2="587.13" stroke="#000" stroke-width="1"/>
<line x1="71.5" y1="581.60" x2="78.5" y2="581.60" stroke="#000" stroke-width="1"/>
<line x1="75.0" y1="545.24" x2="78.5" y2="545.24" stroke="#000" stroke-width="1"/>
<line x1="75.0" y1="523.96" x2="78.5" y2="523.96" stroke="#000" stroke-width="1"/>
<line x1="75.0" y1="508.87" x2="78.5" y2="508.87" stroke="#000" stroke-width="1"/>
<line x1="78.50" y1="823.2" x2="78.50" y2="827.7" stroke="#000" stroke-width="1.3"/>
<line x1="208.10" y1="823.2" x2="208.10" y2="827.7" stroke="#000" stroke-width="1.3"/>
<line x1="337.70" y1="823.2" x2="337.70" y2="827.7" stroke="#000" stroke-width="1.3"/>
<line x1="467.30" y1="823.2" x2="467.30" y2="827.7" stroke="#000" stroke-width="1.3"/>
<line x1="596.90" y1="823.2" x2="596.90" y2="827.7" stroke="#000" stroke-width="1.3"/>
<text transform="translate(57.00 343.70) scale(1.170 1)" font-size="12.70" text-anchor="end" stroke="#000" stroke-width="0.20">10</text>
<text transform="translate(58.00 339.80) scale(1.200 1)" font-size="8.80" text-anchor="start" stroke="#000" stroke-width="0.20">3</text>
<text transform="translate(57.00 234.93) scale(1.170 1)" font-size="12.70" text-anchor="end" stroke="#000" stroke-width="0.20">10</text>
<text transform="translate(58.00 231.03) scale(1.200 1)" font-size="8.80" text-anchor="start" stroke="#000" stroke-width="0.20">4</text>
<text transform="translate(57.00 126.17) scale(1.170 1)" font-size="12.70" text-anchor="end" stroke="#000" stroke-width="0.20">10</text>
<text transform="translate(58.00 122.27) scale(1.200 1)" font-size="8.80" text-anchor="start" stroke="#000" stroke-width="0.20">5</text>
<text transform="translate(57.00 17.40) scale(1.170 1)" font-size="12.70" text-anchor="end" stroke="#000" stroke-width="0.20">10</text>
<text transform="translate(58.00 13.50) scale(1.200 1)" font-size="8.80" text-anchor="start" stroke="#000" stroke-width="0.20">6</text>
<text transform="translate(57.00 827.80) scale(1.170 1)" font-size="12.70" text-anchor="end" stroke="#000" stroke-width="0.20">10</text>
<text transform="translate(58.00 823.90) scale(1.200 1)" font-size="8.80" text-anchor="start" stroke="#000" stroke-width="0.20">2</text>
<text transform="translate(57.00 707.00) scale(1.170 1)" font-size="12.70" text-anchor="end" stroke="#000" stroke-width="0.20">10</text>
<text transform="translate(58.00 703.10) scale(1.200 1)" font-size="8.80" text-anchor="start" stroke="#000" stroke-width="0.20">3</text>
<text transform="translate(57.00 586.20) scale(1.170 1)" font-size="12.70" text-anchor="end" stroke="#000" stroke-width="0.20">10</text>
<text transform="translate(58.00 582.30) scale(1.200 1)" font-size="8.80" text-anchor="start" stroke="#000" stroke-width="0.20">4</text>
<text transform="translate(175.70 361.00) scale(1.250 1)" font-size="12.70" text-anchor="middle" stroke="#000" stroke-width="0.20">500</text>
<text transform="translate(337.70 361.00) scale(1.250 1)" font-size="12.70" text-anchor="middle" stroke="#000" stroke-width="0.20">1000</text>
<text transform="translate(499.70 361.00) scale(1.250 1)" font-size="12.70" text-anchor="middle" stroke="#000" stroke-width="0.20">1500</text>
<text transform="translate(661.70 361.00) scale(1.250 1)" font-size="12.70" text-anchor="middle" stroke="#000" stroke-width="0.20">2000</text>
<text transform="translate(78.50 845.60) scale(1.250 1)" font-size="12.70" text-anchor="middle" stroke="#000" stroke-width="0.20">2000</text>
<text transform="translate(208.10 845.60) scale(1.250 1)" font-size="12.70" text-anchor="middle" stroke="#000" stroke-width="0.20">3000</text>
<text transform="translate(337.70 845.60) scale(1.250 1)" font-size="12.70" text-anchor="middle" stroke="#000" stroke-width="0.20">4000</text>
<text transform="translate(467.30 845.60) scale(1.250 1)" font-size="12.70" text-anchor="middle" stroke="#000" stroke-width="0.20">5000</text>
<text transform="translate(596.90 845.60) scale(1.250 1)" font-size="12.70" text-anchor="middle" stroke="#000" stroke-width="0.20">6000</text>
<text transform="translate(370.00 388.10) scale(1.360 1)" font-size="14.10" text-anchor="middle" stroke="#000" stroke-width="0.20" letter-spacing="0.15">Energy (keV)</text>
<text transform="translate(370.00 872.60) scale(1.360 1)" font-size="14.10" text-anchor="middle" stroke="#000" stroke-width="0.20" letter-spacing="0.15">Energy (keV)</text>
<text transform="translate(21.30 198.80) rotate(-90) scale(1 1.360)" font-size="15.10" stroke="#000" stroke-width="0.30">Counts</text>
<text transform="translate(21.30 684.00) rotate(-90) scale(1 1.360)" font-size="15.10" stroke="#000" stroke-width="0.30">Counts</text>
<text transform="translate(101.52 116.91) rotate(-90) scale(1 1.300)" font-size="10.10" stroke="#000" stroke-width="0.30">250 Ar-39</text>
<text transform="translate(127.62 93.99) rotate(-90) scale(1 1.300)" font-size="10.10" stroke="#000" stroke-width="0.30">346 K-39</text>
<text transform="translate(204.67 106.25) rotate(-90) scale(1 1.300)" font-size="10.10" stroke="#000" stroke-width="0.30">579 K-41</text>
<text transform="translate(259.32 140.03) rotate(-90) scale(1 1.300)" font-size="10.10" stroke="#000" stroke-width="0.30">770 K-39*</text>
<text transform="translate(277.04 134.64) rotate(-90) scale(1 1.300)" font-size="10.10" stroke="#000" stroke-width="0.30">788 Cl-36</text>
<text transform="translate(272.42 180.96) rotate(-90) scale(1 1.300)" font-size="10.10" stroke="#000" stroke-width="0.30">783 K-39</text>
<text transform="translate(318.62 202.08) rotate(-90) scale(1 1.300)" font-size="10.10" stroke="#000" stroke-width="0.30">924 K-39</text>
<text transform="translate(328.17 148.68) rotate(-90) scale(1 1.300)" font-size="10.10" stroke="#000" stroke-width="0.30">948 K-41</text>
<text transform="translate(335.72 195.28) rotate(-90) scale(1 1.300)" font-size="10.10" stroke="#000" stroke-width="0.30">980 K-41</text>
<text transform="translate(341.77 125.09) rotate(-90) scale(1 1.300)" font-size="10.10" stroke="#000" stroke-width="0.30">985 Ar-39</text>
<text transform="translate(350.87 179.34) rotate(-90) scale(1 1.300)" font-size="10.10" stroke="#000" stroke-width="0.30">1022 K-41</text>
<text transform="translate(369.97 185.80) rotate(-90) scale(1 1.300)" font-size="10.10" stroke="#000" stroke-width="0.30">1090 Ar-39</text>
<text transform="translate(387.87 223.37) rotate(-90) scale(1 1.300)" font-size="10.10" stroke="#000" stroke-width="0.30">1129 K-39</text>
<text transform="translate(389.97 71.54) rotate(-90) scale(1 1.300)" font-size="10.10" stroke="#000" stroke-width="0.30">1158 K-39*</text>
<text transform="translate(401.04 166.38) rotate(-90) scale(1 1.300)" font-size="10.32" stroke="#000" stroke-width="0.30">1165 Ar-39 + Cl-36 + SE 1677</text>
<text transform="translate(413.48 214.60) rotate(-90) scale(1 1.300)" font-size="10.47" stroke="#000" stroke-width="0.30">1186 K-41 + SE 1697</text>
<text transform="translate(427.67 133.90) rotate(-90) scale(1 1.300)" font-size="10.10" stroke="#000" stroke-width="0.30">1267 Ar-39</text>
<text transform="translate(441.12 182.64) rotate(-90) scale(1 1.300)" font-size="10.10" stroke="#000" stroke-width="0.30">1293 K-41</text>
<text transform="translate(446.22 232.84) rotate(-90) scale(1 1.300)" font-size="10.10" stroke="#000" stroke-width="0.30">1313 K-39</text>
<text transform="translate(479.17 245.84) rotate(-90) scale(1 1.300)" font-size="10.10" stroke="#000" stroke-width="0.30">1418 K-41</text>
<text transform="translate(503.47 187.12) rotate(-90) scale(1 1.300)" font-size="10.10" stroke="#000" stroke-width="0.30">DE 2522</text>
<text transform="translate(510.72 241.00) rotate(-90) scale(1 1.300)" font-size="10.10" stroke="#000" stroke-width="0.30">1517 Ar-39</text>
<text transform="translate(521.33 187.69) rotate(-90) scale(1 1.300)" font-size="10.35" stroke="#000" stroke-width="0.30">1559 K-41 + K-39</text>
<text transform="translate(528.47 240.29) rotate(-90) scale(1 1.300)" font-size="10.10" stroke="#000" stroke-width="0.30">1573 K-39</text>
<text transform="translate(532.17 187.66) rotate(-90) scale(1 1.300)" font-size="10.01" stroke="#000" stroke-width="0.30">1582 K-41 + SE 2092</text>
<text transform="translate(544.92 109.84) rotate(-90) scale(1 1.300)" font-size="10.10" stroke="#000" stroke-width="0.30">1592 K-41</text>
<text transform="translate(547.47 246.46) rotate(-90) scale(1 1.300)" font-size="10.10" stroke="#000" stroke-width="0.30">1618 K-39*</text>
<text transform="translate(561.17 221.84) rotate(-90) scale(1 1.300)" font-size="10.10" stroke="#000" stroke-width="0.30">1677 K-41</text>
<text transform="translate(566.37 172.09) rotate(-90) scale(1 1.300)" font-size="10.10" stroke="#000" stroke-width="0.30">1697 K-41</text>
<text transform="translate(602.17 259.32) rotate(-90) scale(1 1.300)" font-size="10.10" stroke="#000" stroke-width="0.30">DE 2814</text>
<text transform="translate(624.32 265.54) rotate(-90) scale(1 1.300)" font-size="10.10" stroke="#000" stroke-width="0.30">1865 K-39</text>
<text transform="translate(634.17 215.39) rotate(-90) scale(1 1.300)" font-size="10.10" stroke="#000" stroke-width="0.30">1921 K-41</text>
<text transform="translate(641.02 264.84) rotate(-90) scale(1 1.300)" font-size="10.10" stroke="#000" stroke-width="0.30">1924 K-39</text>
<text transform="translate(650.57 207.54) rotate(-90) scale(1 1.300)" font-size="10.10" stroke="#000" stroke-width="0.30">1951 K-39</text>
<text transform="translate(656.82 152.08) rotate(-90) scale(1 1.300)" font-size="10.10" stroke="#000" stroke-width="0.30">1982 O-18</text>
<text transform="translate(91.57 617.70) rotate(-90) scale(1 1.300)" font-size="10.10" stroke="#000" stroke-width="0.30">SE 2522</text>
<text transform="translate(98.47 563.31) rotate(-90) scale(1 1.300)" font-size="10.10" stroke="#000" stroke-width="0.30">2092 Ar-39</text>
<text transform="translate(106.27 616.01) rotate(-90) scale(1 1.300)" font-size="10.10" stroke="#000" stroke-width="0.30">2143 K-41</text>
<text transform="translate(124.37 618.25) rotate(-90) scale(1 1.300)" font-size="10.10" stroke="#000" stroke-width="0.30">SE 2814</text>
<text transform="translate(142.12 545.46) rotate(-90) scale(1 1.300)" font-size="10.10" stroke="#000" stroke-width="0.30">SE 3019</text>
<text transform="translate(143.62 641.51) rotate(-90) scale(1 1.300)" font-size="10.10" stroke="#000" stroke-width="0.30">2481 Ar-39</text>
<text transform="translate(152.72 590.11) rotate(-90) scale(1 1.300)" font-size="10.10" stroke="#000" stroke-width="0.30">2522 K-39</text>
<text transform="translate(169.52 597.91) rotate(-90) scale(1 1.300)" font-size="10.10" stroke="#000" stroke-width="0.30">2650 Ar-39</text>
<text transform="translate(180.72 645.61) rotate(-90) scale(1 1.300)" font-size="10.10" stroke="#000" stroke-width="0.30">2757 K-41</text>
<text transform="translate(189.52 564.66) rotate(-90) scale(1 1.300)" font-size="10.10" stroke="#000" stroke-width="0.30">2814 K-39</text>
<text transform="translate(216.47 612.60) rotate(-90) scale(1 1.300)" font-size="10.10" stroke="#000" stroke-width="0.30">3019 K-39</text>
<text transform="translate(229.77 612.15) rotate(-90) scale(1 1.300)" font-size="10.10" stroke="#000" stroke-width="0.30">SE 3597</text>
<text transform="translate(224.32 667.55) rotate(-90) scale(1 1.300)" font-size="10.10" stroke="#000" stroke-width="0.30">3061 Ar-39</text>
<text transform="translate(258.82 632.48) rotate(-90) scale(1 1.300)" font-size="10.10" stroke="#000" stroke-width="0.30">SE 3883</text>
<text transform="translate(272.37 631.81) rotate(-90) scale(1 1.300)" font-size="10.10" stroke="#000" stroke-width="0.30">SE 3939</text>
<text transform="translate(267.47 675.43) rotate(-90) scale(1 1.300)" font-size="10.10" stroke="#000" stroke-width="0.30">DE 4440</text>
<text transform="translate(291.72 657.60) rotate(-90) scale(1 1.300)" font-size="10.10" stroke="#000" stroke-width="0.30">3597 K-39</text>
<text transform="translate(333.52 623.21) rotate(-90) scale(1 1.300)" font-size="10.10" stroke="#000" stroke-width="0.30">SE 4440</text>
<text transform="translate(326.32 673.80) rotate(-90) scale(1 1.300)" font-size="10.10" stroke="#000" stroke-width="0.30">3883 K-39</text>
<text transform="translate(339.12 673.80) rotate(-90) scale(1 1.300)" font-size="10.10" stroke="#000" stroke-width="0.30">3939 K-39</text>
<text transform="translate(354.87 688.87) rotate(-90) scale(1 1.300)" font-size="10.10" stroke="#000" stroke-width="0.30">4083 K-39</text>
<text transform="translate(398.47 636.34) rotate(-90) scale(1 1.300)" font-size="10.10" stroke="#000" stroke-width="0.30">4440 C-12</text>
<text transform="translate(375.47 690.81) rotate(-90) scale(1 1.300)" font-size="10.10" stroke="#000" stroke-width="0.30">SE 4739</text>
<text transform="translate(405.47 689.92) rotate(-90) scale(1 1.300)" font-size="10.10" stroke="#000" stroke-width="0.30">4475 K-39</text>
<text transform="translate(439.02 702.32) rotate(-90) scale(1 1.300)" font-size="10.10" stroke="#000" stroke-width="0.30">4739 K-39</text>
<text transform="translate(485.62 701.43) rotate(-90) scale(1 1.300)" font-size="10.10" stroke="#000" stroke-width="0.30">DE 6129</text>
<text transform="translate(553.32 688.96) rotate(-90) scale(1 1.300)" font-size="10.10" stroke="#000" stroke-width="0.30">SE 6129</text>
<text transform="translate(619.42 688.40) rotate(-90) scale(1 1.300)" font-size="10.10" stroke="#000" stroke-width="0.30">6129 O-16</text>
</svg>
</body></html>
